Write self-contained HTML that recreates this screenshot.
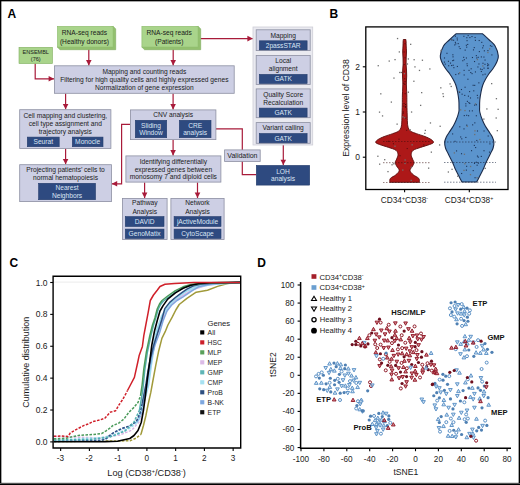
<!DOCTYPE html>
<html><head><meta charset="utf-8"><style>
html,body{margin:0;padding:0;background:#fff;}
body{width:520px;height:485px;overflow:hidden;}
svg{display:block;font-family:"Liberation Sans", sans-serif;}
</style></head><body>
<svg width="520" height="485" viewBox="0 0 520 485">
<rect x="0" y="0" width="520" height="485" fill="#fff"/>
<text x="7.60" y="17.60" font-size="12" fill="#000" text-anchor="start" font-weight="bold" >A</text>
<path d="M35.20,63.50 L35.20,78.80 L54.00,78.80" fill="none" stroke="#a81b3a" stroke-width="1.2"/>
<path d="M54.00,78.80 L48.60,81.60 L48.60,76.00 Z" fill="#a81b3a"/>
<path d="M88.80,49.50 L88.80,65.40" fill="none" stroke="#a81b3a" stroke-width="1.2"/>
<path d="M88.80,65.40 L86.00,60.00 L91.60,60.00 Z" fill="#a81b3a"/>
<path d="M173.20,49.50 L173.20,65.40" fill="none" stroke="#a81b3a" stroke-width="1.2"/>
<path d="M173.20,65.40 L170.40,60.00 L176.00,60.00 Z" fill="#a81b3a"/>
<path d="M200.50,38.60 L252.80,38.60" fill="none" stroke="#a81b3a" stroke-width="1.2"/>
<path d="M252.80,38.60 L247.40,41.40 L247.40,35.80 Z" fill="#a81b3a"/>
<path d="M65.60,93.60 L65.60,109.30" fill="none" stroke="#a81b3a" stroke-width="1.2"/>
<path d="M65.60,109.30 L62.80,103.90 L68.40,103.90 Z" fill="#a81b3a"/>
<path d="M173.10,93.60 L173.10,109.50" fill="none" stroke="#a81b3a" stroke-width="1.2"/>
<path d="M173.10,109.50 L170.30,104.10 L175.90,104.10 Z" fill="#a81b3a"/>
<path d="M65.60,148.70 L65.60,164.30" fill="none" stroke="#a81b3a" stroke-width="1.2"/>
<path d="M65.60,164.30 L62.80,158.90 L68.40,158.90 Z" fill="#a81b3a"/>
<path d="M130.00,124.30 L121.60,124.30 L121.60,183.80 L111.80,183.80" fill="none" stroke="#a81b3a" stroke-width="1.2"/>
<path d="M111.80,183.80 L117.20,181.00 L117.20,186.60 Z" fill="#a81b3a"/>
<path d="M173.10,140.00 L173.10,155.50" fill="none" stroke="#a81b3a" stroke-width="1.2"/>
<path d="M173.10,155.50 L170.30,150.10 L175.90,150.10 Z" fill="#a81b3a"/>
<path d="M216.00,128.80 L242.30,128.80 L242.30,174.60 L256.00,174.60" fill="none" stroke="#a81b3a" stroke-width="1.2"/>
<path d="M144.60,182.50 L144.60,198.00" fill="none" stroke="#a81b3a" stroke-width="1.2"/>
<path d="M144.60,198.00 L141.80,192.60 L147.40,192.60 Z" fill="#a81b3a"/>
<path d="M197.50,182.50 L197.50,198.00" fill="none" stroke="#a81b3a" stroke-width="1.2"/>
<path d="M197.50,198.00 L194.70,192.60 L200.30,192.60 Z" fill="#a81b3a"/>
<path d="M283.30,145.00 L283.30,165.10" fill="none" stroke="#a81b3a" stroke-width="1.2"/>
<path d="M283.30,165.10 L280.50,159.70 L286.10,159.70 Z" fill="#a81b3a"/>
<rect x="19.00" y="47.30" width="33.50" height="16.30" fill="#a9d48b" stroke="#82b062" stroke-width="0.6"/>
<text x="35.75" y="54.13" font-size="5.5" fill="#1a1a1a" text-anchor="middle" font-weight="normal" >ENSEMBL</text>
<text x="35.75" y="60.73" font-size="5.5" fill="#1a1a1a" text-anchor="middle" font-weight="normal" >(76)</text>
<path d="M113.10,26.30 L115.70,28.90 L115.70,49.70 L60.00,49.70 L57.40,47.10 Z" fill="#93c06f" stroke="#7eab5c" stroke-width="0.6" stroke-linejoin="round"/>
<rect x="57.40" y="26.30" width="55.70" height="20.80" fill="#a9d48b" stroke="#8cbb6c" stroke-width="0.6"/>
<text x="84.45" y="35.44" font-size="6.65" fill="#1a1a1a" text-anchor="middle" font-weight="normal" >RNA-seq reads</text>
<text x="84.45" y="43.54" font-size="6.65" fill="#1a1a1a" text-anchor="middle" font-weight="normal" >(Healthy donors)</text>
<path d="M198.10,26.30 L200.70,28.90 L200.70,49.70 L144.50,49.70 L141.90,47.10 Z" fill="#93c06f" stroke="#7eab5c" stroke-width="0.6" stroke-linejoin="round"/>
<rect x="141.90" y="26.30" width="56.20" height="20.80" fill="#a9d48b" stroke="#8cbb6c" stroke-width="0.6"/>
<text x="169.20" y="35.44" font-size="6.65" fill="#1a1a1a" text-anchor="middle" font-weight="normal" >RNA-seq reads</text>
<text x="169.20" y="43.54" font-size="6.65" fill="#1a1a1a" text-anchor="middle" font-weight="normal" >(Patients)</text>
<rect x="54.40" y="65.80" width="179.80" height="27.50" fill="#cdcfe4" stroke="#8c8fa2" stroke-width="0.8"/>
<text x="144.30" y="74.00" font-size="6.65" fill="#1a1a1a" text-anchor="middle" font-weight="normal" >Mapping and counting reads</text>
<text x="144.30" y="81.80" font-size="6.65" fill="#1a1a1a" text-anchor="middle" font-weight="normal" >Filtering for high quality cells and highly expressed genes</text>
<text x="144.30" y="89.60" font-size="6.65" fill="#1a1a1a" text-anchor="middle" font-weight="normal" >Normalization of gene expression</text>
<rect x="19.70" y="109.70" width="91.20" height="38.70" fill="#cdcfe4" stroke="#8c8fa2" stroke-width="0.8"/>
<text x="65.30" y="117.60" font-size="6.65" fill="#1a1a1a" text-anchor="middle" font-weight="normal" >Cell mapping and clustering,</text>
<text x="65.30" y="125.60" font-size="6.65" fill="#1a1a1a" text-anchor="middle" font-weight="normal" >cell type assignment and</text>
<text x="65.30" y="133.60" font-size="6.65" fill="#1a1a1a" text-anchor="middle" font-weight="normal" >trajectory analysis</text>
<rect x="27.30" y="137.10" width="31.90" height="9.60" fill="#2e4a80" stroke="#243c6c" stroke-width="0.6"/>
<text x="43.25" y="144.29" font-size="6.65" fill="#dce6f5" text-anchor="middle" font-weight="normal" >Seurat</text>
<rect x="72.30" y="137.10" width="30.70" height="9.60" fill="#2e4a80" stroke="#243c6c" stroke-width="0.6"/>
<text x="87.65" y="144.29" font-size="6.65" fill="#dce6f5" text-anchor="middle" font-weight="normal" >Monocle</text>
<rect x="130.40" y="109.90" width="85.50" height="29.70" fill="#cdcfe4" stroke="#8c8fa2" stroke-width="0.8"/>
<text x="173.10" y="117.40" font-size="6.65" fill="#1a1a1a" text-anchor="middle" font-weight="normal" >CNV analysis</text>
<rect x="135.30" y="120.30" width="31.40" height="17.40" fill="#2e4a80" stroke="#243c6c" stroke-width="0.6"/>
<text x="151.00" y="127.59" font-size="6.65" fill="#dce6f5" text-anchor="middle" font-weight="normal" >Sliding</text>
<text x="151.00" y="135.19" font-size="6.65" fill="#dce6f5" text-anchor="middle" font-weight="normal" >Window</text>
<rect x="179.30" y="120.30" width="31.70" height="17.40" fill="#2e4a80" stroke="#243c6c" stroke-width="0.6"/>
<text x="195.15" y="127.59" font-size="6.65" fill="#dce6f5" text-anchor="middle" font-weight="normal" >CRE</text>
<text x="195.15" y="135.19" font-size="6.65" fill="#dce6f5" text-anchor="middle" font-weight="normal" >analysis</text>
<rect x="19.70" y="164.70" width="91.70" height="36.90" fill="#cdcfe4" stroke="#8c8fa2" stroke-width="0.8"/>
<text x="65.50" y="172.40" font-size="6.65" fill="#1a1a1a" text-anchor="middle" font-weight="normal" >Projecting patients’ cells to</text>
<text x="65.50" y="180.00" font-size="6.65" fill="#1a1a1a" text-anchor="middle" font-weight="normal" >normal hematopoiesis</text>
<rect x="38.60" y="183.30" width="56.90" height="16.40" fill="#2e4a80" stroke="#243c6c" stroke-width="0.6"/>
<text x="67.05" y="190.09" font-size="6.65" fill="#dce6f5" text-anchor="middle" font-weight="normal" >Nearest</text>
<text x="67.05" y="197.69" font-size="6.65" fill="#dce6f5" text-anchor="middle" font-weight="normal" >Neighbors</text>
<rect x="125.90" y="155.90" width="95.00" height="26.20" fill="#cdcfe4" stroke="#8c8fa2" stroke-width="0.8"/>
<text x="173.40" y="163.60" font-size="6.65" fill="#1a1a1a" text-anchor="middle" font-weight="normal" >Identifying differentially</text>
<text x="173.40" y="171.60" font-size="6.65" fill="#1a1a1a" text-anchor="middle" font-weight="normal" >expressed genes between</text>
<text x="173.40" y="179.40" font-size="6.65" fill="#1a1a1a" text-anchor="middle" font-weight="normal" >monosomy 7 and diploid cells</text>
<rect x="122.40" y="198.40" width="44.70" height="41.20" fill="#cdcfe4" stroke="#8c8fa2" stroke-width="0.8"/>
<text x="144.80" y="205.40" font-size="6.65" fill="#1a1a1a" text-anchor="middle" font-weight="normal" >Pathway</text>
<text x="144.80" y="213.60" font-size="6.65" fill="#1a1a1a" text-anchor="middle" font-weight="normal" >Analysis</text>
<rect x="125.30" y="216.60" width="38.70" height="9.90" fill="#2e4a80" stroke="#243c6c" stroke-width="0.6"/>
<text x="144.65" y="223.94" font-size="6.65" fill="#dce6f5" text-anchor="middle" font-weight="normal" >DAVID</text>
<rect x="125.30" y="229.10" width="38.70" height="9.40" fill="#2e4a80" stroke="#243c6c" stroke-width="0.6"/>
<text x="144.65" y="236.19" font-size="6.65" fill="#dce6f5" text-anchor="middle" font-weight="normal" >GenoMatix</text>
<rect x="170.90" y="198.40" width="53.20" height="41.20" fill="#cdcfe4" stroke="#8c8fa2" stroke-width="0.8"/>
<text x="197.50" y="205.40" font-size="6.65" fill="#1a1a1a" text-anchor="middle" font-weight="normal" >Network</text>
<text x="197.50" y="213.60" font-size="6.65" fill="#1a1a1a" text-anchor="middle" font-weight="normal" >Analysis</text>
<rect x="174.10" y="216.60" width="46.90" height="9.90" fill="#2e4a80" stroke="#243c6c" stroke-width="0.6"/>
<text x="197.55" y="223.94" font-size="6.65" fill="#dce6f5" text-anchor="middle" font-weight="normal" >jActiveModule</text>
<rect x="174.10" y="229.10" width="46.90" height="9.40" fill="#2e4a80" stroke="#243c6c" stroke-width="0.6"/>
<text x="197.55" y="236.19" font-size="6.65" fill="#dce6f5" text-anchor="middle" font-weight="normal" >CytoScape</text>
<rect x="224.60" y="149.90" width="35.60" height="11.50" fill="#cdcfe4" stroke="#8c8fa2" stroke-width="0.8"/>
<text x="242.40" y="158.10" font-size="7.0" fill="#1a1a1a" text-anchor="middle" font-weight="normal" >Validation</text>
<rect x="253.00" y="27.00" width="59.70" height="118.00" fill="#eaeaf0" stroke="#cdcdd6" stroke-width="0.8"/>
<rect x="256.20" y="29.80" width="54.00" height="20.80" fill="#cdcfe4" stroke="#8c8fa2" stroke-width="0.8"/>
<text x="283.20" y="37.60" font-size="6.65" fill="#1a1a1a" text-anchor="middle" font-weight="normal" >Mapping</text>
<rect x="259.30" y="40.80" width="47.80" height="9.10" fill="#2e4a80" stroke="#243c6c" stroke-width="0.6"/>
<text x="283.20" y="47.74" font-size="6.65" fill="#dce6f5" text-anchor="middle" font-weight="normal" >2passSTAR</text>
<rect x="256.20" y="55.40" width="54.00" height="29.00" fill="#cdcfe4" stroke="#8c8fa2" stroke-width="0.8"/>
<text x="283.20" y="62.80" font-size="6.65" fill="#1a1a1a" text-anchor="middle" font-weight="normal" >Local</text>
<text x="283.20" y="70.90" font-size="6.65" fill="#1a1a1a" text-anchor="middle" font-weight="normal" >alignment</text>
<rect x="259.30" y="74.40" width="47.80" height="9.10" fill="#2e4a80" stroke="#243c6c" stroke-width="0.6"/>
<text x="283.20" y="81.34" font-size="6.65" fill="#dce6f5" text-anchor="middle" font-weight="normal" >GATK</text>
<rect x="256.20" y="88.90" width="54.00" height="28.80" fill="#cdcfe4" stroke="#8c8fa2" stroke-width="0.8"/>
<text x="283.20" y="96.80" font-size="6.65" fill="#1a1a1a" text-anchor="middle" font-weight="normal" >Quality Score</text>
<text x="283.20" y="104.80" font-size="6.65" fill="#1a1a1a" text-anchor="middle" font-weight="normal" >Recalculation</text>
<rect x="259.30" y="108.10" width="47.80" height="8.90" fill="#2e4a80" stroke="#243c6c" stroke-width="0.6"/>
<text x="283.20" y="114.94" font-size="6.65" fill="#dce6f5" text-anchor="middle" font-weight="normal" >GATK</text>
<rect x="256.20" y="122.60" width="54.00" height="20.70" fill="#cdcfe4" stroke="#8c8fa2" stroke-width="0.8"/>
<text x="283.20" y="130.30" font-size="6.65" fill="#1a1a1a" text-anchor="middle" font-weight="normal" >Variant calling</text>
<rect x="259.30" y="133.50" width="47.80" height="9.30" fill="#2e4a80" stroke="#243c6c" stroke-width="0.6"/>
<text x="283.20" y="140.54" font-size="6.65" fill="#dce6f5" text-anchor="middle" font-weight="normal" >GATK</text>
<rect x="256.30" y="165.40" width="53.40" height="19.70" fill="#2e4a80" stroke="#243c6c" stroke-width="0.6"/>
<text x="283.00" y="173.84" font-size="6.65" fill="#dce6f5" text-anchor="middle" font-weight="normal" >LOH</text>
<text x="283.00" y="181.44" font-size="6.65" fill="#dce6f5" text-anchor="middle" font-weight="normal" >analysis</text>
<text x="329.40" y="17.80" font-size="12" fill="#000" text-anchor="start" font-weight="bold" >B</text>
<path d="M403.30,39.50 C403.27,39.92 403.15,40.92 403.10,42.00 C403.05,43.08 403.07,44.33 403.00,46.00 C402.93,47.67 402.70,50.00 402.70,52.00 C402.70,54.00 402.93,56.00 403.00,58.00 C403.07,60.00 403.15,62.00 403.10,64.00 C403.05,66.00 402.80,68.00 402.70,70.00 C402.60,72.00 402.48,74.00 402.50,76.00 C402.52,78.00 402.77,80.00 402.80,82.00 C402.83,84.00 402.77,85.83 402.70,88.00 C402.63,90.17 402.47,92.17 402.40,95.00 C402.33,97.83 402.37,101.67 402.30,105.00 C402.23,108.33 402.08,112.17 402.00,115.00 C401.92,117.83 401.90,120.17 401.80,122.00 C401.70,123.83 401.63,124.83 401.40,126.00 C401.17,127.17 400.95,128.08 400.40,129.00 C399.85,129.92 399.40,130.72 398.10,131.50 C396.80,132.28 394.93,132.85 392.60,133.70 C390.27,134.55 386.52,135.63 384.10,136.60 C381.68,137.57 379.50,138.53 378.10,139.50 C376.70,140.47 375.45,141.57 375.70,142.40 C375.95,143.23 377.45,143.67 379.60,144.50 C381.75,145.33 385.87,146.43 388.60,147.40 C391.33,148.37 394.43,149.10 396.00,150.30 C397.57,151.50 397.88,153.15 398.00,154.60 C398.12,156.05 397.17,157.67 396.70,159.00 C396.23,160.33 395.20,161.40 395.20,162.60 C395.20,163.80 396.03,164.88 396.70,166.20 C397.37,167.52 399.33,169.07 399.20,170.50 C399.07,171.93 397.37,173.48 395.90,174.80 C394.43,176.12 391.42,177.15 390.40,178.40 C389.38,179.65 389.90,181.65 389.80,182.30 L419.40,182.30 C419.30,181.65 419.82,179.65 418.80,178.40 C417.78,177.15 414.77,176.12 413.30,174.80 C411.83,173.48 410.13,171.93 410.00,170.50 C409.87,169.07 411.83,167.52 412.50,166.20 C413.17,164.88 414.00,163.80 414.00,162.60 C414.00,161.40 412.97,160.33 412.50,159.00 C412.03,157.67 411.08,156.05 411.20,154.60 C411.32,153.15 411.63,151.50 413.20,150.30 C414.77,149.10 417.87,148.37 420.60,147.40 C423.33,146.43 427.45,145.33 429.60,144.50 C431.75,143.67 433.25,143.23 433.50,142.40 C433.75,141.57 432.50,140.47 431.10,139.50 C429.70,138.53 427.52,137.57 425.10,136.60 C422.68,135.63 418.93,134.55 416.60,133.70 C414.27,132.85 412.40,132.28 411.10,131.50 C409.80,130.72 409.35,129.92 408.80,129.00 C408.25,128.08 408.03,127.17 407.80,126.00 C407.57,124.83 407.50,123.83 407.40,122.00 C407.30,120.17 407.28,117.83 407.20,115.00 C407.12,112.17 406.97,108.33 406.90,105.00 C406.83,101.67 406.87,97.83 406.80,95.00 C406.73,92.17 406.57,90.17 406.50,88.00 C406.43,85.83 406.37,84.00 406.40,82.00 C406.43,80.00 406.68,78.00 406.70,76.00 C406.72,74.00 406.60,72.00 406.50,70.00 C406.40,68.00 406.15,66.00 406.10,64.00 C406.05,62.00 406.13,60.00 406.20,58.00 C406.27,56.00 406.50,54.00 406.50,52.00 C406.50,50.00 406.27,47.67 406.20,46.00 C406.13,44.33 406.15,43.08 406.10,42.00 C406.05,40.92 405.93,39.92 405.90,39.50 Z" fill="#ad1818" stroke="#5a0c0c" stroke-width="0.9" stroke-linejoin="round"/>
<path d="M455.90,33.80 C454.80,34.83 451.37,37.97 449.30,40.00 C447.23,42.03 445.00,43.38 443.50,46.00 C442.00,48.62 440.58,53.03 440.30,55.70 C440.02,58.37 440.90,59.82 441.80,62.00 C442.70,64.18 444.37,66.80 445.70,68.80 C447.03,70.80 448.57,72.25 449.80,74.00 C451.03,75.75 452.10,77.47 453.10,79.30 C454.10,81.13 455.07,82.95 455.80,85.00 C456.53,87.05 457.00,89.10 457.50,91.60 C458.00,94.10 458.55,97.37 458.80,100.00 C459.05,102.63 459.00,105.40 459.00,107.40 C459.00,109.40 459.25,109.93 458.80,112.00 C458.35,114.07 457.22,117.47 456.30,119.80 C455.38,122.13 454.53,123.83 453.30,126.00 C452.07,128.17 450.07,130.97 448.90,132.80 C447.73,134.63 447.00,135.45 446.30,137.00 C445.60,138.55 444.83,140.27 444.70,142.10 C444.57,143.93 444.95,146.13 445.50,148.00 C446.05,149.87 446.82,150.88 448.00,153.30 C449.18,155.72 451.47,160.05 452.60,162.50 C453.73,164.95 453.95,166.13 454.80,168.00 C455.65,169.87 456.87,172.03 457.70,173.70 C458.53,175.37 459.10,176.62 459.80,178.00 C460.50,179.38 461.55,181.33 461.90,182.00 L476.70,182.00 C477.05,181.33 478.10,179.38 478.80,178.00 C479.50,176.62 480.07,175.37 480.90,173.70 C481.73,172.03 482.95,169.87 483.80,168.00 C484.65,166.13 484.87,164.95 486.00,162.50 C487.13,160.05 489.42,155.72 490.60,153.30 C491.78,150.88 492.55,149.87 493.10,148.00 C493.65,146.13 494.03,143.93 493.90,142.10 C493.77,140.27 493.00,138.55 492.30,137.00 C491.60,135.45 490.87,134.63 489.70,132.80 C488.53,130.97 486.53,128.17 485.30,126.00 C484.07,123.83 483.22,122.13 482.30,119.80 C481.38,117.47 480.25,114.07 479.80,112.00 C479.35,109.93 479.60,109.40 479.60,107.40 C479.60,105.40 479.55,102.63 479.80,100.00 C480.05,97.37 480.60,94.10 481.10,91.60 C481.60,89.10 482.07,87.05 482.80,85.00 C483.53,82.95 484.50,81.13 485.50,79.30 C486.50,77.47 487.57,75.75 488.80,74.00 C490.03,72.25 491.57,70.80 492.90,68.80 C494.23,66.80 495.90,64.18 496.80,62.00 C497.70,59.82 498.58,58.37 498.30,55.70 C498.02,53.03 496.60,48.62 495.10,46.00 C493.60,43.38 491.37,42.03 489.30,40.00 C487.23,37.97 483.80,34.83 482.70,33.80 Z" fill="#5b94cd" stroke="#1b2b4a" stroke-width="1.1" stroke-linejoin="round"/>
<line x1="383" x2="430" y1="141.6" y2="141.6" stroke="#3a1010" stroke-width="0.7" stroke-dasharray="1.5,1.5" opacity="0.8"/>
<line x1="383" x2="430" y1="162.7" y2="162.7" stroke="#3a1010" stroke-width="0.7" stroke-dasharray="1.5,1.5" opacity="0.8"/>
<line x1="383" x2="430" y1="182.4" y2="182.4" stroke="#3a1010" stroke-width="0.7" stroke-dasharray="1.5,1.5" opacity="0.8"/>
<line x1="444" x2="496" y1="142" y2="142" stroke="#1a2540" stroke-width="0.7" stroke-dasharray="1.5,1.5" opacity="0.8"/>
<line x1="444" x2="496" y1="162.5" y2="162.5" stroke="#1a2540" stroke-width="0.7" stroke-dasharray="1.5,1.5" opacity="0.8"/>
<line x1="444" x2="496" y1="182.2" y2="182.2" stroke="#1a2540" stroke-width="0.7" stroke-dasharray="1.5,1.5" opacity="0.8"/>
<rect x="410.71" y="166.55" width="1.3" height="1.3" fill="#707070"/>
<rect x="418.84" y="69.78" width="1.3" height="1.3" fill="#707070"/>
<rect x="393.16" y="163.14" width="1.3" height="1.3" fill="#707070"/>
<rect x="377.23" y="155.61" width="1.3" height="1.3" fill="#707070"/>
<rect x="419.99" y="104.73" width="1.3" height="1.3" fill="#707070"/>
<rect x="393.31" y="77.44" width="1.3" height="1.3" fill="#707070"/>
<rect x="390.71" y="101.44" width="1.3" height="1.3" fill="#707070"/>
<rect x="404.20" y="117.05" width="1.3" height="1.3" fill="#707070"/>
<rect x="430.71" y="151.49" width="1.3" height="1.3" fill="#707070"/>
<rect x="410.55" y="179.76" width="1.3" height="1.3" fill="#707070"/>
<rect x="388.58" y="60.42" width="1.3" height="1.3" fill="#707070"/>
<rect x="410.03" y="43.68" width="1.3" height="1.3" fill="#707070"/>
<rect x="378.88" y="111.49" width="1.3" height="1.3" fill="#707070"/>
<rect x="402.13" y="169.42" width="1.3" height="1.3" fill="#707070"/>
<rect x="410.93" y="111.38" width="1.3" height="1.3" fill="#707070"/>
<rect x="403.78" y="72.99" width="1.3" height="1.3" fill="#707070"/>
<rect x="377.59" y="65.06" width="1.3" height="1.3" fill="#707070"/>
<rect x="414.32" y="66.24" width="1.3" height="1.3" fill="#707070"/>
<rect x="396.90" y="37.89" width="1.3" height="1.3" fill="#707070"/>
<rect x="421.77" y="59.59" width="1.3" height="1.3" fill="#707070"/>
<rect x="391.40" y="164.12" width="1.3" height="1.3" fill="#707070"/>
<rect x="404.48" y="159.34" width="1.3" height="1.3" fill="#707070"/>
<rect x="411.49" y="144.17" width="1.3" height="1.3" fill="#707070"/>
<rect x="381.89" y="115.27" width="1.3" height="1.3" fill="#707070"/>
<rect x="404.37" y="162.82" width="1.3" height="1.3" fill="#707070"/>
<rect x="396.46" y="123.49" width="1.3" height="1.3" fill="#707070"/>
<rect x="380.15" y="93.17" width="1.3" height="1.3" fill="#707070"/>
<rect x="394.39" y="58.98" width="1.3" height="1.3" fill="#707070"/>
<rect x="421.03" y="91.99" width="1.3" height="1.3" fill="#707070"/>
<rect x="429.80" y="122.31" width="1.3" height="1.3" fill="#707070"/>
<rect x="409.62" y="129.22" width="1.3" height="1.3" fill="#707070"/>
<rect x="413.48" y="59.06" width="1.3" height="1.3" fill="#707070"/>
<rect x="400.73" y="71.85" width="1.3" height="1.3" fill="#707070"/>
<rect x="398.68" y="51.28" width="1.3" height="1.3" fill="#707070"/>
<rect x="429.21" y="68.31" width="1.3" height="1.3" fill="#707070"/>
<rect x="413.23" y="80.61" width="1.3" height="1.3" fill="#707070"/>
<rect x="424.15" y="132.71" width="1.3" height="1.3" fill="#707070"/>
<rect x="384.06" y="159.04" width="1.3" height="1.3" fill="#707070"/>
<rect x="427.98" y="167.51" width="1.3" height="1.3" fill="#707070"/>
<rect x="407.71" y="58.30" width="1.3" height="1.3" fill="#707070"/>
<rect x="387.34" y="170.97" width="1.3" height="1.3" fill="#707070"/>
<rect x="406.78" y="63.35" width="1.3" height="1.3" fill="#707070"/>
<rect x="424.69" y="129.74" width="1.3" height="1.3" fill="#707070"/>
<rect x="407.71" y="91.54" width="1.3" height="1.3" fill="#707070"/>
<rect x="399.14" y="71.84" width="1.3" height="1.3" fill="#707070"/>
<rect x="379.01" y="163.53" width="1.3" height="1.3" fill="#707070"/>
<rect x="402.21" y="116.21" width="1.3" height="1.3" fill="#707070"/>
<rect x="394.35" y="145.54" width="1.3" height="1.3" fill="#707070"/>
<rect x="440.16" y="87.18" width="1.3" height="1.3" fill="#707070"/>
<rect x="440.47" y="49.78" width="1.3" height="1.3" fill="#707070"/>
<rect x="496.68" y="130.01" width="1.3" height="1.3" fill="#707070"/>
<rect x="464.34" y="109.91" width="1.3" height="1.3" fill="#707070"/>
<rect x="491.02" y="82.98" width="1.3" height="1.3" fill="#707070"/>
<rect x="474.07" y="133.90" width="1.3" height="1.3" fill="#707070"/>
<rect x="459.97" y="109.21" width="1.3" height="1.3" fill="#707070"/>
<rect x="484.56" y="167.73" width="1.3" height="1.3" fill="#707070"/>
<rect x="447.71" y="171.36" width="1.3" height="1.3" fill="#707070"/>
<rect x="438.96" y="144.30" width="1.3" height="1.3" fill="#707070"/>
<rect x="487.28" y="51.86" width="1.3" height="1.3" fill="#707070"/>
<rect x="463.78" y="153.64" width="1.3" height="1.3" fill="#707070"/>
<rect x="439.51" y="125.62" width="1.3" height="1.3" fill="#707070"/>
<rect x="486.23" y="108.30" width="1.3" height="1.3" fill="#707070"/>
<rect x="482.20" y="65.31" width="1.3" height="1.3" fill="#707070"/>
<rect x="450.56" y="85.82" width="1.3" height="1.3" fill="#707070"/>
<rect x="449.41" y="83.26" width="1.3" height="1.3" fill="#707070"/>
<rect x="495.54" y="117.35" width="1.3" height="1.3" fill="#707070"/>
<rect x="459.05" y="72.08" width="1.3" height="1.3" fill="#707070"/>
<rect x="495.77" y="98.02" width="1.3" height="1.3" fill="#707070"/>
<rect x="497.47" y="108.68" width="1.3" height="1.3" fill="#707070"/>
<rect x="469.92" y="165.83" width="1.3" height="1.3" fill="#707070"/>
<rect x="483.22" y="118.45" width="1.3" height="1.3" fill="#707070"/>
<rect x="464.25" y="163.08" width="1.3" height="1.3" fill="#707070"/>
<rect x="463.35" y="169.76" width="1.3" height="1.3" fill="#707070"/>
<rect x="442.77" y="95.85" width="1.3" height="1.3" fill="#707070"/>
<rect x="469.82" y="173.99" width="1.3" height="1.3" fill="#707070"/>
<rect x="453.71" y="152.26" width="1.3" height="1.3" fill="#707070"/>
<rect x="479.24" y="138.91" width="1.3" height="1.3" fill="#707070"/>
<rect x="476.43" y="177.08" width="1.3" height="1.3" fill="#707070"/>
<rect x="458.61" y="91.09" width="1.3" height="1.3" fill="#707070"/>
<rect x="450.82" y="38.96" width="1.3" height="1.3" fill="#707070"/>
<rect x="451.42" y="168.67" width="1.3" height="1.3" fill="#707070"/>
<rect x="489.06" y="48.21" width="1.3" height="1.3" fill="#707070"/>
<rect x="474.88" y="103.23" width="1.3" height="1.3" fill="#707070"/>
<rect x="474.33" y="130.24" width="1.3" height="1.3" fill="#707070"/>
<rect x="457.05" y="175.55" width="1.3" height="1.3" fill="#707070"/>
<rect x="466.60" y="125.57" width="1.3" height="1.3" fill="#707070"/>
<rect x="476.76" y="58.93" width="1.3" height="1.3" fill="#707070"/>
<rect x="442.36" y="93.08" width="1.3" height="1.3" fill="#707070"/>
<rect x="475.80" y="161.68" width="1.1" height="1.1" fill="#1b3358"/>
<rect x="480.80" y="70.98" width="1.1" height="1.1" fill="#1b3358"/>
<rect x="483.49" y="130.44" width="1.1" height="1.1" fill="#1b3358"/>
<rect x="454.87" y="35.66" width="1.1" height="1.1" fill="#1b3358"/>
<rect x="454.20" y="44.39" width="1.1" height="1.1" fill="#1b3358"/>
<rect x="471.43" y="36.01" width="1.1" height="1.1" fill="#1b3358"/>
<rect x="443.91" y="61.56" width="1.1" height="1.1" fill="#1b3358"/>
<rect x="470.22" y="71.98" width="1.1" height="1.1" fill="#1b3358"/>
<rect x="473.77" y="144.86" width="1.1" height="1.1" fill="#1b3358"/>
<rect x="443.93" y="57.43" width="1.1" height="1.1" fill="#1b3358"/>
<rect x="474.51" y="177.18" width="1.1" height="1.1" fill="#1b3358"/>
<rect x="459.60" y="48.00" width="1.1" height="1.1" fill="#1b3358"/>
<rect x="484.49" y="59.51" width="1.1" height="1.1" fill="#1b3358"/>
<rect x="481.55" y="68.96" width="1.1" height="1.1" fill="#1b3358"/>
<rect x="487.03" y="65.12" width="1.1" height="1.1" fill="#1b3358"/>
<rect x="476.23" y="57.40" width="1.1" height="1.1" fill="#1b3358"/>
<rect x="472.59" y="84.75" width="1.1" height="1.1" fill="#1b3358"/>
<rect x="477.82" y="162.61" width="1.1" height="1.1" fill="#1b3358"/>
<rect x="487.06" y="63.33" width="1.1" height="1.1" fill="#1b3358"/>
<rect x="459.10" y="91.73" width="1.1" height="1.1" fill="#1b3358"/>
<rect x="469.94" y="97.42" width="1.1" height="1.1" fill="#1b3358"/>
<rect x="463.73" y="115.04" width="1.1" height="1.1" fill="#1b3358"/>
<rect x="447.87" y="60.74" width="1.1" height="1.1" fill="#1b3358"/>
<rect x="474.87" y="39.80" width="1.1" height="1.1" fill="#1b3358"/>
<rect x="466.17" y="114.77" width="1.1" height="1.1" fill="#1b3358"/>
<rect x="457.64" y="43.05" width="1.1" height="1.1" fill="#1b3358"/>
<rect x="446.40" y="52.75" width="1.1" height="1.1" fill="#1b3358"/>
<rect x="460.15" y="136.41" width="1.1" height="1.1" fill="#1b3358"/>
<rect x="451.06" y="64.98" width="1.1" height="1.1" fill="#1b3358"/>
<rect x="453.07" y="39.68" width="1.1" height="1.1" fill="#1b3358"/>
<rect x="465.31" y="103.26" width="1.1" height="1.1" fill="#1b3358"/>
<rect x="454.45" y="140.78" width="1.1" height="1.1" fill="#1b3358"/>
<rect x="463.55" y="69.81" width="1.1" height="1.1" fill="#1b3358"/>
<rect x="474.16" y="84.81" width="1.1" height="1.1" fill="#1b3358"/>
<rect x="473.93" y="162.81" width="1.1" height="1.1" fill="#1b3358"/>
<rect x="469.35" y="37.02" width="1.1" height="1.1" fill="#1b3358"/>
<rect x="464.21" y="94.87" width="1.1" height="1.1" fill="#1b3358"/>
<rect x="488.04" y="64.38" width="1.1" height="1.1" fill="#1b3358"/>
<rect x="481.21" y="41.82" width="1.1" height="1.1" fill="#1b3358"/>
<rect x="488.96" y="151.59" width="1.1" height="1.1" fill="#1b3358"/>
<rect x="476.57" y="164.65" width="1.1" height="1.1" fill="#1b3358"/>
<rect x="452.14" y="60.10" width="1.1" height="1.1" fill="#1b3358"/>
<rect x="476.90" y="155.52" width="1.1" height="1.1" fill="#1b3358"/>
<rect x="464.63" y="49.58" width="1.1" height="1.1" fill="#1b3358"/>
<rect x="470.62" y="68.22" width="1.1" height="1.1" fill="#1b3358"/>
<rect x="480.81" y="56.37" width="1.1" height="1.1" fill="#1b3358"/>
<rect x="487.57" y="67.68" width="1.1" height="1.1" fill="#1b3358"/>
<rect x="478.64" y="39.96" width="1.1" height="1.1" fill="#1b3358"/>
<rect x="473.21" y="90.28" width="1.1" height="1.1" fill="#1b3358"/>
<rect x="461.07" y="172.95" width="1.1" height="1.1" fill="#1b3358"/>
<rect x="455.20" y="73.96" width="1.1" height="1.1" fill="#1b3358"/>
<rect x="465.85" y="57.45" width="1.1" height="1.1" fill="#1b3358"/>
<rect x="476.80" y="94.84" width="1.1" height="1.1" fill="#1b3358"/>
<rect x="448.13" y="65.21" width="1.1" height="1.1" fill="#1b3358"/>
<rect x="463.33" y="35.75" width="1.1" height="1.1" fill="#1b3358"/>
<rect x="466.50" y="63.24" width="1.1" height="1.1" fill="#1b3358"/>
<rect x="482.35" y="74.26" width="1.1" height="1.1" fill="#1b3358"/>
<rect x="466.85" y="100.83" width="1.1" height="1.1" fill="#1b3358"/>
<rect x="451.48" y="39.45" width="1.1" height="1.1" fill="#1b3358"/>
<rect x="456.82" y="39.38" width="1.1" height="1.1" fill="#1b3358"/>
<rect x="459.24" y="126.26" width="1.1" height="1.1" fill="#1b3358"/>
<rect x="469.23" y="102.90" width="1.1" height="1.1" fill="#1b3358"/>
<rect x="475.81" y="55.10" width="1.1" height="1.1" fill="#1b3358"/>
<rect x="483.81" y="50.27" width="1.1" height="1.1" fill="#1b3358"/>
<rect x="461.55" y="93.64" width="1.1" height="1.1" fill="#1b3358"/>
<rect x="484.55" y="73.63" width="1.1" height="1.1" fill="#1b3358"/>
<rect x="458.14" y="73.25" width="1.1" height="1.1" fill="#1b3358"/>
<rect x="491.35" y="54.35" width="1.1" height="1.1" fill="#1b3358"/>
<rect x="473.72" y="47.06" width="1.1" height="1.1" fill="#1b3358"/>
<rect x="467.16" y="43.91" width="1.1" height="1.1" fill="#1b3358"/>
<rect x="480.75" y="155.87" width="1.1" height="1.1" fill="#1b3358"/>
<rect x="483.45" y="150.18" width="1.1" height="1.1" fill="#1b3358"/>
<rect x="460.98" y="153.17" width="1.1" height="1.1" fill="#1b3358"/>
<rect x="452.62" y="64.71" width="1.1" height="1.1" fill="#1b3358"/>
<rect x="461.22" y="138.29" width="1.1" height="1.1" fill="#1b3358"/>
<rect x="469.05" y="91.05" width="1.1" height="1.1" fill="#1b3358"/>
<rect x="471.51" y="73.07" width="1.1" height="1.1" fill="#1b3358"/>
<rect x="474.10" y="104.62" width="1.1" height="1.1" fill="#1b3358"/>
<rect x="489.35" y="143.32" width="1.1" height="1.1" fill="#1b3358"/>
<rect x="478.80" y="51.05" width="1.1" height="1.1" fill="#1b3358"/>
<rect x="471.79" y="110.30" width="1.1" height="1.1" fill="#1b3358"/>
<rect x="483.38" y="56.52" width="1.1" height="1.1" fill="#1b3358"/>
<rect x="444.73" y="63.56" width="1.1" height="1.1" fill="#1b3358"/>
<rect x="466.19" y="124.60" width="1.1" height="1.1" fill="#1b3358"/>
<rect x="476.94" y="130.44" width="1.1" height="1.1" fill="#1b3358"/>
<rect x="471.90" y="56.96" width="1.1" height="1.1" fill="#1b3358"/>
<rect x="467.36" y="78.69" width="1.1" height="1.1" fill="#1b3358"/>
<rect x="452.06" y="133.38" width="1.1" height="1.1" fill="#1b3358"/>
<rect x="455.20" y="43.34" width="1.1" height="1.1" fill="#1b3358"/>
<rect x="467.87" y="95.62" width="1.1" height="1.1" fill="#1b3358"/>
<rect x="471.00" y="150.13" width="1.1" height="1.1" fill="#1b3358"/>
<rect x="472.11" y="124.29" width="1.1" height="1.1" fill="#1b3358"/>
<rect x="475.09" y="147.01" width="1.1" height="1.1" fill="#1b3358"/>
<rect x="463.12" y="56.78" width="1.1" height="1.1" fill="#1b3358"/>
<rect x="468.07" y="115.16" width="1.1" height="1.1" fill="#1b3358"/>
<rect x="463.45" y="128.34" width="1.1" height="1.1" fill="#1b3358"/>
<rect x="475.79" y="115.21" width="1.1" height="1.1" fill="#1b3358"/>
<rect x="474.28" y="122.31" width="1.1" height="1.1" fill="#1b3358"/>
<rect x="487.35" y="50.04" width="1.1" height="1.1" fill="#1b3358"/>
<rect x="477.68" y="56.76" width="1.1" height="1.1" fill="#1b3358"/>
<rect x="465.31" y="136.90" width="1.1" height="1.1" fill="#1b3358"/>
<rect x="458.59" y="46.16" width="1.1" height="1.1" fill="#1b3358"/>
<rect x="463.62" y="74.41" width="1.1" height="1.1" fill="#1b3358"/>
<rect x="472.92" y="49.32" width="1.1" height="1.1" fill="#1b3358"/>
<rect x="465.82" y="169.58" width="1.1" height="1.1" fill="#1b3358"/>
<rect x="468.49" y="69.83" width="1.1" height="1.1" fill="#1b3358"/>
<rect x="478.30" y="82.29" width="1.1" height="1.1" fill="#1b3358"/>
<rect x="452.32" y="54.23" width="1.1" height="1.1" fill="#1b3358"/>
<rect x="483.48" y="67.57" width="1.1" height="1.1" fill="#1b3358"/>
<rect x="466.75" y="65.17" width="1.1" height="1.1" fill="#1b3358"/>
<rect x="452.49" y="56.29" width="1.1" height="1.1" fill="#1b3358"/>
<rect x="482.43" y="62.71" width="1.1" height="1.1" fill="#1b3358"/>
<rect x="484.41" y="63.76" width="1.1" height="1.1" fill="#1b3358"/>
<rect x="474.54" y="36.95" width="1.1" height="1.1" fill="#1b3358"/>
<rect x="462.26" y="60.18" width="1.1" height="1.1" fill="#1b3358"/>
<rect x="468.33" y="102.07" width="1.1" height="1.1" fill="#1b3358"/>
<rect x="453.07" y="59.69" width="1.1" height="1.1" fill="#1b3358"/>
<rect x="465.32" y="105.39" width="1.1" height="1.1" fill="#1b3358"/>
<rect x="466.28" y="37.15" width="1.1" height="1.1" fill="#1b3358"/>
<rect x="456.01" y="150.37" width="1.1" height="1.1" fill="#1b3358"/>
<rect x="482.12" y="47.31" width="1.1" height="1.1" fill="#1b3358"/>
<rect x="474.89" y="71.38" width="1.1" height="1.1" fill="#1b3358"/>
<rect x="477.70" y="156.59" width="1.1" height="1.1" fill="#1b3358"/>
<rect x="465.81" y="44.73" width="1.1" height="1.1" fill="#1b3358"/>
<rect x="466.50" y="40.12" width="1.1" height="1.1" fill="#1b3358"/>
<rect x="460.91" y="88.97" width="1.1" height="1.1" fill="#1b3358"/>
<rect x="491.29" y="45.78" width="1.1" height="1.1" fill="#1b3358"/>
<rect x="454.84" y="41.80" width="1.1" height="1.1" fill="#1b3358"/>
<rect x="467.59" y="35.05" width="1.1" height="1.1" fill="#1b3358"/>
<rect x="482.84" y="45.24" width="1.1" height="1.1" fill="#1b3358"/>
<rect x="463.77" y="59.14" width="1.1" height="1.1" fill="#1b3358"/>
<rect x="453.32" y="67.12" width="1.1" height="1.1" fill="#1b3358"/>
<rect x="472.68" y="170.05" width="1.1" height="1.1" fill="#1b3358"/>
<rect x="473.99" y="60.98" width="1.1" height="1.1" fill="#1b3358"/>
<rect x="477.21" y="97.33" width="1.1" height="1.1" fill="#1b3358"/>
<rect x="464.53" y="86.69" width="1.1" height="1.1" fill="#1b3358"/>
<rect x="487.36" y="67.69" width="1.1" height="1.1" fill="#1b3358"/>
<rect x="476.25" y="139.93" width="1.1" height="1.1" fill="#1b3358"/>
<rect x="487.65" y="135.46" width="1.1" height="1.1" fill="#1b3358"/>
<rect x="468.98" y="110.37" width="1.1" height="1.1" fill="#1b3358"/>
<rect x="478.40" y="63.42" width="1.1" height="1.1" fill="#1b3358"/>
<rect x="479.94" y="68.51" width="1.1" height="1.1" fill="#1b3358"/>
<rect x="456.63" y="37.55" width="1.1" height="1.1" fill="#1b3358"/>
<rect x="466.16" y="46.61" width="1.1" height="1.1" fill="#1b3358"/>
<rect x="475.82" y="104.24" width="1.1" height="1.1" fill="#1b3358"/>
<rect x="466.10" y="165.77" width="1.1" height="1.1" fill="#1b3358"/>
<rect x="456.82" y="65.93" width="1.1" height="1.1" fill="#1b3358"/>
<rect x="477.37" y="66.43" width="1.1" height="1.1" fill="#1b3358"/>
<rect x="489.84" y="45.15" width="1.1" height="1.1" fill="#1b3358"/>
<rect x="449.95" y="62.55" width="1.1" height="1.1" fill="#1b3358"/>
<rect x="399.56" y="155.24" width="1" height="1" fill="#4a0c0c"/>
<rect x="402.66" y="112.78" width="1" height="1" fill="#4a0c0c"/>
<rect x="405.27" y="117.61" width="1" height="1" fill="#4a0c0c"/>
<rect x="403.69" y="51.48" width="1" height="1" fill="#4a0c0c"/>
<rect x="406.69" y="148.09" width="1" height="1" fill="#4a0c0c"/>
<rect x="404.32" y="83.92" width="1" height="1" fill="#4a0c0c"/>
<rect x="405.04" y="104.07" width="1" height="1" fill="#4a0c0c"/>
<rect x="404.52" y="81.10" width="1" height="1" fill="#4a0c0c"/>
<rect x="406.20" y="129.77" width="1" height="1" fill="#4a0c0c"/>
<rect x="404.62" y="93.21" width="1" height="1" fill="#4a0c0c"/>
<rect x="398.51" y="138.68" width="1" height="1" fill="#4a0c0c"/>
<rect x="404.60" y="43.26" width="1" height="1" fill="#4a0c0c"/>
<rect x="388.15" y="140.83" width="1" height="1" fill="#4a0c0c"/>
<rect x="392.88" y="143.27" width="1" height="1" fill="#4a0c0c"/>
<rect x="405.07" y="106.14" width="1" height="1" fill="#4a0c0c"/>
<rect x="403.55" y="103.13" width="1" height="1" fill="#4a0c0c"/>
<rect x="403.40" y="82.88" width="1" height="1" fill="#4a0c0c"/>
<rect x="403.67" y="70.67" width="1" height="1" fill="#4a0c0c"/>
<rect x="403.63" y="64.06" width="1" height="1" fill="#4a0c0c"/>
<rect x="403.34" y="105.64" width="1" height="1" fill="#4a0c0c"/>
<rect x="423.32" y="144.41" width="1" height="1" fill="#4a0c0c"/>
<rect x="404.24" y="78.26" width="1" height="1" fill="#4a0c0c"/>
<rect x="402.82" y="111.46" width="1" height="1" fill="#4a0c0c"/>
<rect x="404.57" y="57.23" width="1" height="1" fill="#4a0c0c"/>
<rect x="404.93" y="106.83" width="1" height="1" fill="#4a0c0c"/>
<rect x="365.8" y="26.9" width="142.2" height="162.6" fill="none" stroke="#000" stroke-width="1.3"/>
<line x1="362.8" x2="365.8" y1="157.2" y2="157.2" stroke="#000" stroke-width="1.1"/>
<text x="357.60" y="160.20" font-size="8.5" fill="#1a1a1a" text-anchor="middle" font-weight="normal" >0</text>
<line x1="362.8" x2="365.8" y1="111.99999999999999" y2="111.99999999999999" stroke="#000" stroke-width="1.1"/>
<text x="357.60" y="115.00" font-size="8.5" fill="#1a1a1a" text-anchor="middle" font-weight="normal" >1</text>
<line x1="362.8" x2="365.8" y1="66.79999999999998" y2="66.79999999999998" stroke="#000" stroke-width="1.1"/>
<text x="357.60" y="69.80" font-size="8.5" fill="#1a1a1a" text-anchor="middle" font-weight="normal" >2</text>
<line x1="404.6" x2="404.6" y1="189.5" y2="192.3" stroke="#000" stroke-width="1.1"/>
<line x1="469.3" x2="469.3" y1="189.5" y2="192.3" stroke="#000" stroke-width="1.1"/>
<text transform="translate(349.3,108) rotate(-90)" font-size="8.7" fill="#1a1a1a" text-anchor="middle">Expression level of CD38</text>
<text x="404.40" y="203.10" font-size="8.3" fill="#1a1a1a" text-anchor="middle" font-weight="normal" >CD34<tspan dy="-3" font-size="5.3">+</tspan><tspan dy="3">CD38</tspan><tspan dy="-3" font-size="5.3">-</tspan></text>
<text x="469.00" y="203.10" font-size="8.3" fill="#1a1a1a" text-anchor="middle" font-weight="normal" >CD34<tspan dy="-3" font-size="5.3">+</tspan><tspan dy="3">CD38</tspan><tspan dy="-3" font-size="5.3">+</tspan></text>
<text x="9.60" y="266.60" font-size="12" fill="#000" text-anchor="start" font-weight="bold" >C</text>
<line x1="54" x2="240" y1="282.1" y2="282.1" stroke="#e6e6e6" stroke-width="0.8"/>
<path d="M53.80,441.60 L130.00,440.80 L135.90,438.20 L140.90,434.50" fill="none" stroke="#a19a3a" stroke-width="1.5" stroke-dasharray="2.6,1.4" stroke-linejoin="round"/>
<path d="M140.90,434.50 L143.40,425.80 L145.80,416.00 L148.30,403.60 L150.80,392.40 L152.50,383.00 L155.80,365.20 L158.50,351.80 L161.90,338.40 L165.20,331.70 L167.90,325.00 L172.20,317.20 L175.80,310.00 L179.20,304.50 L186.90,298.30 L196.20,292.20 L207.50,290.30 L217.60,286.40 L227.70,283.50 L235.00,282.60 L240.00,282.40" fill="none" stroke="#a19a3a" stroke-width="1.5" stroke-linejoin="round"/>
<path d="M53.80,436.30 L60.00,436.50 L100.00,438.00 L120.00,435.00 L132.00,430.00 L139.00,422.00 L143.00,408.00" fill="none" stroke="#d9b3e3" stroke-width="1.5" stroke-dasharray="2.6,1.4" stroke-linejoin="round"/>
<path d="M143.00,408.00 L147.00,388.00 L151.00,362.00 L155.00,340.00 L159.50,327.00 L164.00,316.00 L169.00,307.00 L175.00,300.50 L183.00,295.50 L193.00,289.50 L206.00,285.50 L222.00,283.20 L240.00,282.40" fill="none" stroke="#d9b3e3" stroke-width="1.5" stroke-linejoin="round"/>
<path d="M53.80,440.50 L80.00,439.00 L101.50,438.00 L115.00,435.00 L128.00,429.00 L136.00,423.00" fill="none" stroke="#9edcef" stroke-width="2.3" stroke-dasharray="2.6,1.4" stroke-linejoin="round"/>
<path d="M136.00,423.00 L138.40,419.70 L143.00,405.00 L148.30,385.00 L151.00,365.00 L154.00,345.00 L157.00,330.00 L162.00,316.00 L168.00,306.00 L176.00,298.00 L186.00,291.00 L198.00,286.50 L212.00,284.00 L240.00,282.40" fill="none" stroke="#9edcef" stroke-width="2.3" stroke-linejoin="round"/>
<path d="M53.80,441.20 L100.00,440.20 L106.00,439.00 L113.40,433.00 L122.00,429.00 L130.80,425.20 L137.00,421.50 L140.70,415.50 L143.10,404.50" fill="none" stroke="#7ea7df" stroke-width="1.5" stroke-dasharray="2.6,1.4" stroke-linejoin="round"/>
<path d="M143.10,404.50 L146.80,386.00 L149.00,372.00 L152.00,356.00 L155.00,345.00 L159.50,333.00 L163.00,321.00 L167.00,311.00 L171.50,305.20 L177.00,300.50 L183.10,296.80 L192.30,290.60 L198.50,286.80 L210.00,284.30 L225.00,283.00 L240.00,282.40" fill="none" stroke="#7ea7df" stroke-width="1.5" stroke-linejoin="round"/>
<path d="M53.80,441.50 L100.00,440.50 L105.00,439.50 L111.60,433.80 L117.40,430.50 L123.10,428.00 L128.90,426.30 L133.00,423.90 L137.00,420.00 L140.00,413.00 L142.10,403.60" fill="none" stroke="#2d4f80" stroke-width="1.5" stroke-dasharray="2.6,1.4" stroke-linejoin="round"/>
<path d="M142.10,403.60 L145.80,385.00 L147.80,372.00 L150.50,358.00 L153.80,345.00 L157.00,335.00 L159.50,327.00 L161.70,320.00 L164.80,308.60 L169.70,302.40 L175.40,297.50 L181.50,292.90 L186.90,289.10 L193.10,286.00 L200.00,284.20 L215.00,283.00 L240.00,282.40" fill="none" stroke="#2d4f80" stroke-width="1.5" stroke-linejoin="round"/>
<path d="M53.80,440.00 L90.00,439.50 L110.00,437.00 L125.00,431.00 L134.00,422.00 L139.50,410.00" fill="none" stroke="#52aeb0" stroke-width="1.5" stroke-dasharray="2.6,1.4" stroke-linejoin="round"/>
<path d="M139.50,410.00 L142.80,390.00 L144.80,370.00 L147.40,352.00 L150.80,336.00 L153.50,325.00 L156.00,317.00 L158.30,309.00 L160.60,304.50 L163.00,301.50 L168.70,297.00 L176.40,291.60 L184.10,287.60 L191.80,285.20 L205.00,283.20 L240.00,282.40" fill="none" stroke="#52aeb0" stroke-width="1.5" stroke-linejoin="round"/>
<path d="M53.80,438.80 L65.70,438.30 L78.40,435.40 L88.80,434.80 L101.50,433.70 L106.10,430.80 L111.30,427.30 L112.40,425.80 L119.00,423.00 L124.00,418.90 L128.90,412.30 L133.90,407.40 L138.00,402.40 L140.50,395.80" fill="none" stroke="#4a9a5a" stroke-width="1.5" stroke-dasharray="2.6,1.4" stroke-linejoin="round"/>
<path d="M140.50,395.80 L142.10,385.00 L143.80,369.20 L146.40,351.80 L149.80,335.70 L152.50,325.00 L154.90,318.00 L157.20,309.00 L159.50,304.00 L162.00,300.50 L167.70,296.00 L175.40,290.60 L183.10,286.80 L190.80,284.50 L198.00,283.50 L215.00,282.70 L240.00,282.40" fill="none" stroke="#4a9a5a" stroke-width="1.5" stroke-linejoin="round"/>
<path d="M53.80,441.80 L105.00,441.60 L117.40,441.20 L129.80,438.50 L134.00,435.50 L138.00,430.50 L141.30,422.20 L143.50,410.00 L145.50,395.00 L147.50,378.00 L149.80,361.20 L151.80,345.10 L154.50,331.00 L157.40,320.00 L160.00,311.00 L163.10,305.60 L167.70,299.10 L175.40,292.90 L183.10,288.30 L190.80,285.20 L198.50,283.70 L210.00,282.80 L240.00,282.40" fill="none" stroke="#000000" stroke-width="1.6" stroke-linejoin="round"/>
<path d="M53.80,436.30 L61.10,436.00 L68.00,436.50 L70.30,433.00 L76.10,429.60 L83.60,425.60 L88.80,423.80 L92.20,421.80 L100.30,419.80 L105.00,418.10 L110.00,412.30 L115.70,410.70 L119.00,404.90 L122.30,400.00 L125.20,395.00 L127.50,390.50" fill="none" stroke="#d0202a" stroke-width="1.5" stroke-dasharray="2.6,1.4" stroke-linejoin="round"/>
<path d="M127.50,390.50 L130.40,385.00 L134.40,377.30 L137.70,362.50 L139.10,355.80 L142.40,346.40 L143.80,335.70 L145.80,325.00 L148.10,312.90 L150.30,300.50 L153.50,295.00 L157.40,290.00 L160.00,286.50 L165.00,284.30 L174.60,283.40 L193.80,282.40 L240.00,282.40" fill="none" stroke="#d0202a" stroke-width="1.5" stroke-linejoin="round"/>
<path d="M53.1,276.2 L240.7,276.2 L240.7,448 L53.1,448 Z" fill="none" stroke="#000" stroke-width="1.4"/>
<line x1="50.2" x2="53.1" y1="441.90" y2="441.90" stroke="#000" stroke-width="1.1"/>
<text x="47.60" y="444.90" font-size="8.5" fill="#1a1a1a" text-anchor="end" font-weight="normal" >0.0</text>
<line x1="50.2" x2="53.1" y1="410.02" y2="410.02" stroke="#000" stroke-width="1.1"/>
<text x="47.60" y="413.02" font-size="8.5" fill="#1a1a1a" text-anchor="end" font-weight="normal" >0.2</text>
<line x1="50.2" x2="53.1" y1="378.14" y2="378.14" stroke="#000" stroke-width="1.1"/>
<text x="47.60" y="381.14" font-size="8.5" fill="#1a1a1a" text-anchor="end" font-weight="normal" >0.4</text>
<line x1="50.2" x2="53.1" y1="346.26" y2="346.26" stroke="#000" stroke-width="1.1"/>
<text x="47.60" y="349.26" font-size="8.5" fill="#1a1a1a" text-anchor="end" font-weight="normal" >0.6</text>
<line x1="50.2" x2="53.1" y1="314.38" y2="314.38" stroke="#000" stroke-width="1.1"/>
<text x="47.60" y="317.38" font-size="8.5" fill="#1a1a1a" text-anchor="end" font-weight="normal" >0.8</text>
<line x1="50.2" x2="53.1" y1="282.50" y2="282.50" stroke="#000" stroke-width="1.1"/>
<text x="47.60" y="285.50" font-size="8.5" fill="#1a1a1a" text-anchor="end" font-weight="normal" >1.0</text>
<line x1="60.65" x2="60.65" y1="448" y2="451" stroke="#000" stroke-width="1.1"/>
<text x="60.45" y="461.00" font-size="8.2" fill="#1a1a1a" text-anchor="middle" font-weight="normal" >-3</text>
<line x1="89.40" x2="89.40" y1="448" y2="451" stroke="#000" stroke-width="1.1"/>
<text x="89.20" y="461.00" font-size="8.2" fill="#1a1a1a" text-anchor="middle" font-weight="normal" >-2</text>
<line x1="118.15" x2="118.15" y1="448" y2="451" stroke="#000" stroke-width="1.1"/>
<text x="117.95" y="461.00" font-size="8.2" fill="#1a1a1a" text-anchor="middle" font-weight="normal" >-1</text>
<line x1="146.90" x2="146.90" y1="448" y2="451" stroke="#000" stroke-width="1.1"/>
<text x="146.90" y="461.00" font-size="8.2" fill="#1a1a1a" text-anchor="middle" font-weight="normal" >0</text>
<line x1="175.65" x2="175.65" y1="448" y2="451" stroke="#000" stroke-width="1.1"/>
<text x="175.65" y="461.00" font-size="8.2" fill="#1a1a1a" text-anchor="middle" font-weight="normal" >1</text>
<line x1="204.40" x2="204.40" y1="448" y2="451" stroke="#000" stroke-width="1.1"/>
<text x="204.40" y="461.00" font-size="8.2" fill="#1a1a1a" text-anchor="middle" font-weight="normal" >2</text>
<line x1="233.15" x2="233.15" y1="448" y2="451" stroke="#000" stroke-width="1.1"/>
<text x="233.15" y="461.00" font-size="8.2" fill="#1a1a1a" text-anchor="middle" font-weight="normal" >3</text>
<text transform="translate(29.4,362.2) rotate(-90)" font-size="9" fill="#1a1a1a" text-anchor="middle">Cumulative distribution</text>
<text x="146.60" y="476.00" font-size="9.2" fill="#1a1a1a" text-anchor="middle" font-weight="normal" >Log (CD38<tspan dy="-3.2" font-size="5.5">+</tspan><tspan dy="3.2">/CD38</tspan><tspan dy="-3.2" font-size="5.5">-</tspan><tspan dy="3.2">)</tspan></text>
<text x="207.50" y="325.70" font-size="7.7" fill="#1a1a1a" text-anchor="start" font-weight="normal" >Genes</text>
<rect x="200.20" y="330.30" width="4.10" height="4.20" fill="#000000"/>
<text x="207.60" y="334.80" font-size="6.8" fill="#1a1a1a" text-anchor="start" font-weight="normal" >All</text>
<rect x="200.20" y="340.28" width="4.10" height="4.20" fill="#cc1f2b"/>
<text x="207.60" y="344.78" font-size="6.8" fill="#1a1a1a" text-anchor="start" font-weight="normal" >HSC</text>
<rect x="200.20" y="350.26" width="4.10" height="4.20" fill="#5aa05a"/>
<text x="207.60" y="354.76" font-size="6.8" fill="#1a1a1a" text-anchor="start" font-weight="normal" >MLP</text>
<rect x="200.20" y="360.24" width="4.10" height="4.20" fill="#dcbbe6"/>
<text x="207.60" y="364.74" font-size="6.8" fill="#1a1a1a" text-anchor="start" font-weight="normal" >MEP</text>
<rect x="200.20" y="370.22" width="4.10" height="4.20" fill="#5fb5b5"/>
<text x="207.60" y="374.72" font-size="6.8" fill="#1a1a1a" text-anchor="start" font-weight="normal" >GMP</text>
<rect x="200.20" y="380.20" width="4.10" height="4.20" fill="#a7e1f1"/>
<text x="207.60" y="384.70" font-size="6.8" fill="#1a1a1a" text-anchor="start" font-weight="normal" >CMP</text>
<rect x="200.20" y="390.18" width="4.10" height="4.20" fill="#2e4f80"/>
<text x="207.60" y="394.68" font-size="6.8" fill="#1a1a1a" text-anchor="start" font-weight="normal" >ProB</text>
<rect x="200.20" y="400.16" width="4.10" height="4.20" fill="#7ea7df"/>
<text x="207.60" y="404.66" font-size="6.8" fill="#1a1a1a" text-anchor="start" font-weight="normal" >B-NK</text>
<rect x="200.20" y="410.14" width="4.10" height="4.20" fill="#111111"/>
<text x="207.60" y="414.64" font-size="6.8" fill="#1a1a1a" text-anchor="start" font-weight="normal" >ETP</text>
<text x="257.20" y="266.70" font-size="12" fill="#000" text-anchor="start" font-weight="bold" >D</text>
<circle cx="421.89" cy="351.69" r="1.6" fill="#6e0f1e"/>
<circle cx="379.51" cy="319.17" r="1.6" fill="#6e0f1e"/>
<circle cx="400.84" cy="388.47" r="1.5" fill="#fff" fill-opacity="0.5" stroke="#8e1826" stroke-width="1.0"/>
<circle cx="379.83" cy="359.41" r="1.5" fill="#fff" fill-opacity="0.5" stroke="#8e1826" stroke-width="1.0"/>
<path d="M402.68,378.86 L404.53,375.53 L400.83,375.53 Z" fill="#c2404f" fill-opacity="0.6" stroke="#8e1826" stroke-width="0.95" stroke-linejoin="round"/>
<path d="M402.11,351.46 L403.96,354.79 L400.26,354.79 Z" fill="#c2404f" fill-opacity="0.6" stroke="#8e1826" stroke-width="0.95" stroke-linejoin="round"/>
<circle cx="415.10" cy="346.63" r="1.6" fill="#6e0f1e"/>
<path d="M398.59,370.04 L400.44,366.71 L396.74,366.71 Z" fill="#c2404f" fill-opacity="0.6" stroke="#8e1826" stroke-width="0.95" stroke-linejoin="round"/>
<path d="M373.46,327.35 L375.31,330.68 L371.61,330.68 Z" fill="#c2404f" fill-opacity="0.6" stroke="#8e1826" stroke-width="0.95" stroke-linejoin="round"/>
<circle cx="355.81" cy="341.26" r="1.6" fill="#6e0f1e"/>
<path d="M393.88,357.68 L395.73,354.35 L392.03,354.35 Z" fill="#c2404f" fill-opacity="0.6" stroke="#8e1826" stroke-width="0.95" stroke-linejoin="round"/>
<path d="M364.14,344.72 L365.99,341.39 L362.29,341.39 Z" fill="#b5d3ee" fill-opacity="0.6" stroke="#5b90c5" stroke-width="0.95" stroke-linejoin="round"/>
<path d="M421.51,341.48 L423.36,338.15 L419.66,338.15 Z" fill="#c2404f" fill-opacity="0.6" stroke="#8e1826" stroke-width="0.95" stroke-linejoin="round"/>
<path d="M391.19,364.44 L393.04,367.77 L389.34,367.77 Z" fill="#c2404f" fill-opacity="0.6" stroke="#8e1826" stroke-width="0.95" stroke-linejoin="round"/>
<circle cx="391.97" cy="343.09" r="1.5" fill="#fff" fill-opacity="0.5" stroke="#8e1826" stroke-width="1.0"/>
<path d="M416.95,337.29 L418.80,333.96 L415.10,333.96 Z" fill="#c2404f" fill-opacity="0.6" stroke="#8e1826" stroke-width="0.95" stroke-linejoin="round"/>
<circle cx="389.66" cy="361.79" r="1.5" fill="#fff" fill-opacity="0.5" stroke="#8e1826" stroke-width="1.0"/>
<path d="M413.26,350.29 L415.11,353.62 L411.41,353.62 Z" fill="#c2404f" fill-opacity="0.6" stroke="#8e1826" stroke-width="0.95" stroke-linejoin="round"/>
<path d="M435.65,367.03 L437.50,370.36 L433.80,370.36 Z" fill="#c2404f" fill-opacity="0.6" stroke="#8e1826" stroke-width="0.95" stroke-linejoin="round"/>
<circle cx="400.50" cy="372.03" r="1.6" fill="#6e0f1e"/>
<path d="M392.52,348.21 L394.37,351.54 L390.67,351.54 Z" fill="#c2404f" fill-opacity="0.6" stroke="#8e1826" stroke-width="0.95" stroke-linejoin="round"/>
<path d="M416.84,360.75 L418.69,357.42 L414.99,357.42 Z" fill="#c2404f" fill-opacity="0.6" stroke="#8e1826" stroke-width="0.95" stroke-linejoin="round"/>
<circle cx="421.00" cy="333.49" r="1.5" fill="#fff" fill-opacity="0.5" stroke="#8e1826" stroke-width="1.0"/>
<path d="M384.18,342.41 L386.03,339.08 L382.33,339.08 Z" fill="#c2404f" fill-opacity="0.6" stroke="#8e1826" stroke-width="0.95" stroke-linejoin="round"/>
<path d="M411.95,375.34 L413.80,372.01 L410.10,372.01 Z" fill="#c2404f" fill-opacity="0.6" stroke="#8e1826" stroke-width="0.95" stroke-linejoin="round"/>
<circle cx="401.70" cy="335.26" r="1.5" fill="#fff" fill-opacity="0.5" stroke="#8e1826" stroke-width="1.0"/>
<path d="M404.42,358.98 L406.27,362.31 L402.57,362.31 Z" fill="#c2404f" fill-opacity="0.6" stroke="#8e1826" stroke-width="0.95" stroke-linejoin="round"/>
<circle cx="369.40" cy="335.27" r="1.5" fill="#fff" fill-opacity="0.5" stroke="#8e1826" stroke-width="1.0"/>
<path d="M396.82,363.55 L398.67,360.22 L394.97,360.22 Z" fill="#c2404f" fill-opacity="0.6" stroke="#8e1826" stroke-width="0.95" stroke-linejoin="round"/>
<path d="M389.43,333.42 L391.28,330.09 L387.58,330.09 Z" fill="#c2404f" fill-opacity="0.6" stroke="#8e1826" stroke-width="0.95" stroke-linejoin="round"/>
<circle cx="380.64" cy="322.58" r="1.5" fill="#fff" fill-opacity="0.5" stroke="#8e1826" stroke-width="1.0"/>
<circle cx="422.27" cy="364.70" r="1.5" fill="#fff" fill-opacity="0.5" stroke="#8e1826" stroke-width="1.0"/>
<path d="M411.60,379.57 L413.45,376.24 L409.75,376.24 Z" fill="#c2404f" fill-opacity="0.6" stroke="#8e1826" stroke-width="0.95" stroke-linejoin="round"/>
<path d="M379.24,339.16 L381.09,335.83 L377.39,335.83 Z" fill="#c2404f" fill-opacity="0.6" stroke="#8e1826" stroke-width="0.95" stroke-linejoin="round"/>
<path d="M395.34,325.19 L397.19,321.86 L393.49,321.86 Z" fill="#c2404f" fill-opacity="0.6" stroke="#8e1826" stroke-width="0.95" stroke-linejoin="round"/>
<circle cx="365.05" cy="346.97" r="1.6" fill="#6e0f1e"/>
<path d="M405.64,369.62 L407.49,372.95 L403.79,372.95 Z" fill="#c2404f" fill-opacity="0.6" stroke="#8e1826" stroke-width="0.95" stroke-linejoin="round"/>
<path d="M412.07,328.92 L413.92,332.25 L410.22,332.25 Z" fill="#c2404f" fill-opacity="0.6" stroke="#8e1826" stroke-width="0.95" stroke-linejoin="round"/>
<circle cx="398.45" cy="344.99" r="1.6" fill="#6e0f1e"/>
<path d="M408.49,331.00 L410.34,327.67 L406.64,327.67 Z" fill="#c2404f" fill-opacity="0.6" stroke="#8e1826" stroke-width="0.95" stroke-linejoin="round"/>
<circle cx="421.42" cy="357.18" r="1.6" fill="#6e0f1e"/>
<path d="M405.59,325.27 L407.44,321.94 L403.74,321.94 Z" fill="#c2404f" fill-opacity="0.6" stroke="#8e1826" stroke-width="0.95" stroke-linejoin="round"/>
<circle cx="427.50" cy="363.27" r="1.5" fill="#fff" fill-opacity="0.5" stroke="#8e1826" stroke-width="1.0"/>
<path d="M396.67,336.24 L398.52,339.57 L394.82,339.57 Z" fill="#c2404f" fill-opacity="0.6" stroke="#8e1826" stroke-width="0.95" stroke-linejoin="round"/>
<circle cx="402.17" cy="348.09" r="1.5" fill="#fff" fill-opacity="0.5" stroke="#8e1826" stroke-width="1.0"/>
<path d="M409.15,336.15 L411.00,339.48 L407.30,339.48 Z" fill="#c2404f" fill-opacity="0.6" stroke="#8e1826" stroke-width="0.95" stroke-linejoin="round"/>
<circle cx="385.89" cy="354.39" r="1.5" fill="#fff" fill-opacity="0.5" stroke="#8e1826" stroke-width="1.0"/>
<circle cx="400.34" cy="326.47" r="1.5" fill="#fff" fill-opacity="0.5" stroke="#8e1826" stroke-width="1.0"/>
<path d="M406.14,350.40 L407.99,347.07 L404.29,347.07 Z" fill="#c2404f" fill-opacity="0.6" stroke="#8e1826" stroke-width="0.95" stroke-linejoin="round"/>
<path d="M388.44,349.38 L390.29,346.05 L386.59,346.05 Z" fill="#c2404f" fill-opacity="0.6" stroke="#8e1826" stroke-width="0.95" stroke-linejoin="round"/>
<circle cx="391.98" cy="337.64" r="1.6" fill="#6e0f1e"/>
<path d="M411.79,348.96 L413.64,345.63 L409.94,345.63 Z" fill="#c2404f" fill-opacity="0.6" stroke="#8e1826" stroke-width="0.95" stroke-linejoin="round"/>
<circle cx="367.95" cy="343.96" r="1.6" fill="#6e0f1e"/>
<circle cx="416.50" cy="350.14" r="1.5" fill="#fff" fill-opacity="0.5" stroke="#8e1826" stroke-width="1.0"/>
<path d="M391.54,376.34 L393.39,373.01 L389.69,373.01 Z" fill="#c2404f" fill-opacity="0.6" stroke="#8e1826" stroke-width="0.95" stroke-linejoin="round"/>
<circle cx="402.06" cy="383.51" r="1.6" fill="#6e0f1e"/>
<path d="M374.86,342.53 L376.71,339.20 L373.01,339.20 Z" fill="#c2404f" fill-opacity="0.6" stroke="#8e1826" stroke-width="0.95" stroke-linejoin="round"/>
<circle cx="396.03" cy="373.77" r="1.5" fill="#fff" fill-opacity="0.5" stroke="#8e1826" stroke-width="1.0"/>
<path d="M376.93,324.47 L378.78,321.14 L375.08,321.14 Z" fill="#c2404f" fill-opacity="0.6" stroke="#8e1826" stroke-width="0.95" stroke-linejoin="round"/>
<circle cx="428.23" cy="369.67" r="1.6" fill="#6e0f1e"/>
<path d="M394.87,332.91 L396.72,336.24 L393.02,336.24 Z" fill="#c2404f" fill-opacity="0.6" stroke="#8e1826" stroke-width="0.95" stroke-linejoin="round"/>
<circle cx="414.56" cy="326.41" r="1.5" fill="#fff" fill-opacity="0.5" stroke="#8e1826" stroke-width="1.0"/>
<path d="M403.44,365.21 L405.29,368.54 L401.59,368.54 Z" fill="#c2404f" fill-opacity="0.6" stroke="#8e1826" stroke-width="0.95" stroke-linejoin="round"/>
<path d="M415.33,364.11 L417.18,367.44 L413.48,367.44 Z" fill="#c2404f" fill-opacity="0.6" stroke="#8e1826" stroke-width="0.95" stroke-linejoin="round"/>
<path d="M387.26,355.71 L389.11,359.04 L385.41,359.04 Z" fill="#c2404f" fill-opacity="0.6" stroke="#8e1826" stroke-width="0.95" stroke-linejoin="round"/>
<circle cx="415.33" cy="342.40" r="1.6" fill="#6e0f1e"/>
<circle cx="385.75" cy="370.34" r="1.5" fill="#fff" fill-opacity="0.5" stroke="#8e1826" stroke-width="1.0"/>
<path d="M376.18,336.25 L378.03,332.92 L374.33,332.92 Z" fill="#c2404f" fill-opacity="0.6" stroke="#8e1826" stroke-width="0.95" stroke-linejoin="round"/>
<circle cx="381.57" cy="363.05" r="1.6" fill="#6e0f1e"/>
<path d="M406.62,383.99 L408.47,380.66 L404.77,380.66 Z" fill="#c2404f" fill-opacity="0.6" stroke="#8e1826" stroke-width="0.95" stroke-linejoin="round"/>
<path d="M412.89,337.92 L414.74,334.59 L411.04,334.59 Z" fill="#c2404f" fill-opacity="0.6" stroke="#8e1826" stroke-width="0.95" stroke-linejoin="round"/>
<circle cx="420.02" cy="377.48" r="1.5" fill="#fff" fill-opacity="0.5" stroke="#8e1826" stroke-width="1.0"/>
<path d="M379.64,367.87 L381.49,364.54 L377.79,364.54 Z" fill="#c2404f" fill-opacity="0.6" stroke="#8e1826" stroke-width="0.95" stroke-linejoin="round"/>
<circle cx="401.55" cy="362.91" r="1.5" fill="#fff" fill-opacity="0.5" stroke="#8e1826" stroke-width="1.0"/>
<circle cx="411.73" cy="364.48" r="1.6" fill="#6e0f1e"/>
<path d="M410.25,344.10 L412.10,340.77 L408.40,340.77 Z" fill="#c2404f" fill-opacity="0.6" stroke="#8e1826" stroke-width="0.95" stroke-linejoin="round"/>
<path d="M391.52,356.92 L393.37,360.25 L389.67,360.25 Z" fill="#c2404f" fill-opacity="0.6" stroke="#8e1826" stroke-width="0.95" stroke-linejoin="round"/>
<path d="M422.67,374.58 L424.52,371.25 L420.82,371.25 Z" fill="#c2404f" fill-opacity="0.6" stroke="#8e1826" stroke-width="0.95" stroke-linejoin="round"/>
<path d="M405.63,388.26 L407.48,384.93 L403.78,384.93 Z" fill="#c2404f" fill-opacity="0.6" stroke="#8e1826" stroke-width="0.95" stroke-linejoin="round"/>
<path d="M409.89,353.14 L411.74,349.81 L408.04,349.81 Z" fill="#c2404f" fill-opacity="0.6" stroke="#8e1826" stroke-width="0.95" stroke-linejoin="round"/>
<path d="M409.83,353.46 L411.68,356.79 L407.98,356.79 Z" fill="#c2404f" fill-opacity="0.6" stroke="#8e1826" stroke-width="0.95" stroke-linejoin="round"/>
<path d="M383.71,349.89 L385.56,346.56 L381.86,346.56 Z" fill="#c2404f" fill-opacity="0.6" stroke="#8e1826" stroke-width="0.95" stroke-linejoin="round"/>
<path d="M410.61,369.55 L412.46,366.22 L408.76,366.22 Z" fill="#b5d3ee" fill-opacity="0.6" stroke="#5b90c5" stroke-width="0.95" stroke-linejoin="round"/>
<path d="M426.43,352.83 L428.28,356.16 L424.58,356.16 Z" fill="#c2404f" fill-opacity="0.6" stroke="#8e1826" stroke-width="0.95" stroke-linejoin="round"/>
<path d="M395.49,328.95 L397.34,332.28 L393.64,332.28 Z" fill="#c2404f" fill-opacity="0.6" stroke="#8e1826" stroke-width="0.95" stroke-linejoin="round"/>
<path d="M434.54,374.46 L436.39,371.13 L432.69,371.13 Z" fill="#c2404f" fill-opacity="0.6" stroke="#8e1826" stroke-width="0.95" stroke-linejoin="round"/>
<circle cx="377.23" cy="348.03" r="1.5" fill="#fff" fill-opacity="0.5" stroke="#8e1826" stroke-width="1.0"/>
<path d="M375.79,350.56 L377.64,353.89 L373.94,353.89 Z" fill="#c2404f" fill-opacity="0.6" stroke="#8e1826" stroke-width="0.95" stroke-linejoin="round"/>
<circle cx="431.49" cy="361.21" r="1.6" fill="#6e0f1e"/>
<path d="M381.31,332.34 L383.16,329.01 L379.46,329.01 Z" fill="#c2404f" fill-opacity="0.6" stroke="#8e1826" stroke-width="0.95" stroke-linejoin="round"/>
<circle cx="357.97" cy="343.82" r="1.5" fill="#fff" fill-opacity="0.5" stroke="#8e1826" stroke-width="1.0"/>
<circle cx="406.84" cy="368.27" r="1.5" fill="#fff" fill-opacity="0.5" stroke="#8e1826" stroke-width="1.0"/>
<path d="M392.12,372.37 L393.97,369.04 L390.27,369.04 Z" fill="#c2404f" fill-opacity="0.6" stroke="#8e1826" stroke-width="0.95" stroke-linejoin="round"/>
<path d="M387.68,338.60 L389.53,341.93 L385.83,341.93 Z" fill="#c2404f" fill-opacity="0.6" stroke="#8e1826" stroke-width="0.95" stroke-linejoin="round"/>
<circle cx="397.92" cy="349.36" r="1.5" fill="#fff" fill-opacity="0.5" stroke="#8e1826" stroke-width="1.0"/>
<circle cx="375.25" cy="344.32" r="1.5" fill="#fff" fill-opacity="0.5" stroke="#8e1826" stroke-width="1.0"/>
<path d="M423.63,338.83 L425.48,335.50 L421.78,335.50 Z" fill="#c2404f" fill-opacity="0.6" stroke="#8e1826" stroke-width="0.95" stroke-linejoin="round"/>
<path d="M417.42,356.83 L419.27,353.50 L415.57,353.50 Z" fill="#c2404f" fill-opacity="0.6" stroke="#8e1826" stroke-width="0.95" stroke-linejoin="round"/>
<circle cx="380.58" cy="344.64" r="1.5" fill="#fff" fill-opacity="0.5" stroke="#8e1826" stroke-width="1.0"/>
<path d="M416.34,376.79 L418.19,373.46 L414.49,373.46 Z" fill="#c2404f" fill-opacity="0.6" stroke="#8e1826" stroke-width="0.95" stroke-linejoin="round"/>
<path d="M415.18,369.02 L417.03,372.35 L413.33,372.35 Z" fill="#c2404f" fill-opacity="0.6" stroke="#8e1826" stroke-width="0.95" stroke-linejoin="round"/>
<circle cx="387.82" cy="365.36" r="1.6" fill="#6e0f1e"/>
<path d="M414.90,377.89 L416.75,381.22 L413.05,381.22 Z" fill="#c2404f" fill-opacity="0.6" stroke="#8e1826" stroke-width="0.95" stroke-linejoin="round"/>
<path d="M386.89,326.38 L388.74,329.71 L385.04,329.71 Z" fill="#c2404f" fill-opacity="0.6" stroke="#8e1826" stroke-width="0.95" stroke-linejoin="round"/>
<path d="M408.93,362.66 L410.78,359.33 L407.08,359.33 Z" fill="#c2404f" fill-opacity="0.6" stroke="#8e1826" stroke-width="0.95" stroke-linejoin="round"/>
<circle cx="360.86" cy="345.95" r="1.6" fill="#6e0f1e"/>
<circle cx="405.31" cy="342.74" r="1.5" fill="#fff" fill-opacity="0.5" stroke="#8e1826" stroke-width="1.0"/>
<circle cx="426.63" cy="366.52" r="1.6" fill="#6e0f1e"/>
<path d="M400.76,337.57 L402.61,340.90 L398.91,340.90 Z" fill="#c2404f" fill-opacity="0.6" stroke="#8e1826" stroke-width="0.95" stroke-linejoin="round"/>
<path d="M385.04,336.15 L386.89,332.82 L383.19,332.82 Z" fill="#c2404f" fill-opacity="0.6" stroke="#8e1826" stroke-width="0.95" stroke-linejoin="round"/>
<path d="M391.80,377.58 L393.65,380.91 L389.95,380.91 Z" fill="#c2404f" fill-opacity="0.6" stroke="#8e1826" stroke-width="0.95" stroke-linejoin="round"/>
<circle cx="404.12" cy="356.80" r="1.6" fill="#6e0f1e"/>
<path d="M422.73,366.90 L424.58,370.23 L420.88,370.23 Z" fill="#c2404f" fill-opacity="0.6" stroke="#8e1826" stroke-width="0.95" stroke-linejoin="round"/>
<path d="M430.85,366.60 L432.70,363.27 L429.00,363.27 Z" fill="#c2404f" fill-opacity="0.6" stroke="#8e1826" stroke-width="0.95" stroke-linejoin="round"/>
<path d="M417.72,341.07 L419.57,337.74 L415.87,337.74 Z" fill="#c2404f" fill-opacity="0.6" stroke="#8e1826" stroke-width="0.95" stroke-linejoin="round"/>
<path d="M376.47,357.88 L378.32,354.55 L374.62,354.55 Z" fill="#b5d3ee" fill-opacity="0.6" stroke="#5b90c5" stroke-width="0.95" stroke-linejoin="round"/>
<path d="M418.55,346.98 L420.40,343.65 L416.70,343.65 Z" fill="#c2404f" fill-opacity="0.6" stroke="#8e1826" stroke-width="0.95" stroke-linejoin="round"/>
<circle cx="406.56" cy="376.59" r="1.6" fill="#6e0f1e"/>
<path d="M399.07,380.02 L400.92,376.69 L397.22,376.69 Z" fill="#c2404f" fill-opacity="0.6" stroke="#8e1826" stroke-width="0.95" stroke-linejoin="round"/>
<circle cx="388.71" cy="324.74" r="1.5" fill="#fff" fill-opacity="0.5" stroke="#8e1826" stroke-width="1.0"/>
<circle cx="404.16" cy="331.03" r="1.6" fill="#6e0f1e"/>
<path d="M406.67,352.30 L408.52,355.63 L404.82,355.63 Z" fill="#c2404f" fill-opacity="0.6" stroke="#8e1826" stroke-width="0.95" stroke-linejoin="round"/>
<circle cx="380.40" cy="353.75" r="1.6" fill="#6e0f1e"/>
<circle cx="431.77" cy="370.60" r="1.5" fill="#fff" fill-opacity="0.5" stroke="#8e1826" stroke-width="1.0"/>
<path d="M398.15,356.36 L400.00,353.03 L396.30,353.03 Z" fill="#c2404f" fill-opacity="0.6" stroke="#8e1826" stroke-width="0.95" stroke-linejoin="round"/>
<circle cx="418.46" cy="362.49" r="1.6" fill="#6e0f1e"/>
<path d="M394.86,342.82 L396.71,339.49 L393.01,339.49 Z" fill="#c2404f" fill-opacity="0.6" stroke="#8e1826" stroke-width="0.95" stroke-linejoin="round"/>
<circle cx="395.64" cy="365.44" r="1.6" fill="#6e0f1e"/>
<circle cx="467.07" cy="308.21" r="1.6" fill="#4f80b3"/>
<path d="M458.12,306.83 L459.97,303.50 L456.27,303.50 Z" fill="#b5d3ee" fill-opacity="0.6" stroke="#5b90c5" stroke-width="0.95" stroke-linejoin="round"/>
<circle cx="460.69" cy="309.16" r="1.6" fill="#4f80b3"/>
<path d="M456.54,317.43 L458.39,320.76 L454.69,320.76 Z" fill="#b5d3ee" fill-opacity="0.6" stroke="#5b90c5" stroke-width="0.95" stroke-linejoin="round"/>
<circle cx="467.38" cy="317.20" r="1.6" fill="#4f80b3"/>
<circle cx="449.95" cy="308.33" r="1.5" fill="#fff" fill-opacity="0.5" stroke="#5b90c5" stroke-width="1.0"/>
<circle cx="454.55" cy="306.01" r="1.5" fill="#fff" fill-opacity="0.5" stroke="#5b90c5" stroke-width="1.0"/>
<path d="M464.55,309.24 L466.40,312.57 L462.70,312.57 Z" fill="#b5d3ee" fill-opacity="0.6" stroke="#5b90c5" stroke-width="0.95" stroke-linejoin="round"/>
<circle cx="464.03" cy="320.57" r="1.6" fill="#4f80b3"/>
<path d="M457.58,315.21 L459.43,311.88 L455.73,311.88 Z" fill="#b5d3ee" fill-opacity="0.6" stroke="#5b90c5" stroke-width="0.95" stroke-linejoin="round"/>
<circle cx="455.13" cy="301.99" r="1.6" fill="#4f80b3"/>
<circle cx="454.21" cy="316.70" r="1.5" fill="#fff" fill-opacity="0.5" stroke="#5b90c5" stroke-width="1.0"/>
<circle cx="462.08" cy="325.92" r="1.5" fill="#fff" fill-opacity="0.5" stroke="#5b90c5" stroke-width="1.0"/>
<circle cx="457.08" cy="323.80" r="1.6" fill="#4f80b3"/>
<circle cx="452.04" cy="311.93" r="1.6" fill="#4f80b3"/>
<circle cx="461.10" cy="318.79" r="1.5" fill="#fff" fill-opacity="0.5" stroke="#5b90c5" stroke-width="1.0"/>
<path d="M465.71,322.37 L467.56,325.70 L463.86,325.70 Z" fill="#b5d3ee" fill-opacity="0.6" stroke="#5b90c5" stroke-width="0.95" stroke-linejoin="round"/>
<circle cx="469.17" cy="313.72" r="1.5" fill="#fff" fill-opacity="0.5" stroke="#5b90c5" stroke-width="1.0"/>
<path d="M463.75,305.15 L465.60,308.48 L461.90,308.48 Z" fill="#b5d3ee" fill-opacity="0.6" stroke="#5b90c5" stroke-width="0.95" stroke-linejoin="round"/>
<path d="M464.27,317.12 L466.12,313.79 L462.42,313.79 Z" fill="#b5d3ee" fill-opacity="0.6" stroke="#5b90c5" stroke-width="0.95" stroke-linejoin="round"/>
<circle cx="467.93" cy="321.24" r="1.6" fill="#4f80b3"/>
<circle cx="451.06" cy="302.75" r="1.6" fill="#4f80b3"/>
<path d="M461.06,311.74 L462.91,315.07 L459.21,315.07 Z" fill="#b5d3ee" fill-opacity="0.6" stroke="#5b90c5" stroke-width="0.95" stroke-linejoin="round"/>
<path d="M455.63,311.25 L457.48,307.92 L453.78,307.92 Z" fill="#b5d3ee" fill-opacity="0.6" stroke="#5b90c5" stroke-width="0.95" stroke-linejoin="round"/>
<circle cx="461.73" cy="304.10" r="1.5" fill="#fff" fill-opacity="0.5" stroke="#5b90c5" stroke-width="1.0"/>
<circle cx="469.92" cy="310.35" r="1.5" fill="#fff" fill-opacity="0.5" stroke="#5b90c5" stroke-width="1.0"/>
<circle cx="450.90" cy="315.04" r="1.5" fill="#fff" fill-opacity="0.5" stroke="#5b90c5" stroke-width="1.0"/>
<circle cx="468.79" cy="349.98" r="1.6" fill="#4f80b3"/>
<path d="M468.73,338.04 L470.58,341.37 L466.88,341.37 Z" fill="#b5d3ee" fill-opacity="0.6" stroke="#5b90c5" stroke-width="0.95" stroke-linejoin="round"/>
<path d="M460.72,342.09 L462.57,345.42 L458.87,345.42 Z" fill="#b5d3ee" fill-opacity="0.6" stroke="#5b90c5" stroke-width="0.95" stroke-linejoin="round"/>
<path d="M476.07,350.67 L477.92,354.00 L474.22,354.00 Z" fill="#b5d3ee" fill-opacity="0.6" stroke="#5b90c5" stroke-width="0.95" stroke-linejoin="round"/>
<circle cx="466.99" cy="356.19" r="1.5" fill="#fff" fill-opacity="0.5" stroke="#5b90c5" stroke-width="1.0"/>
<path d="M467.29,341.63 L469.14,344.96 L465.44,344.96 Z" fill="#b5d3ee" fill-opacity="0.6" stroke="#5b90c5" stroke-width="0.95" stroke-linejoin="round"/>
<path d="M460.48,355.99 L462.33,352.66 L458.63,352.66 Z" fill="#b5d3ee" fill-opacity="0.6" stroke="#5b90c5" stroke-width="0.95" stroke-linejoin="round"/>
<path d="M463.89,355.59 L465.74,358.92 L462.04,358.92 Z" fill="#b5d3ee" fill-opacity="0.6" stroke="#5b90c5" stroke-width="0.95" stroke-linejoin="round"/>
<path d="M464.82,347.60 L466.67,350.93 L462.97,350.93 Z" fill="#b5d3ee" fill-opacity="0.6" stroke="#5b90c5" stroke-width="0.95" stroke-linejoin="round"/>
<circle cx="487.42" cy="349.33" r="1.6" fill="#4f80b3"/>
<path d="M483.55,347.64 L485.40,350.97 L481.70,350.97 Z" fill="#b5d3ee" fill-opacity="0.6" stroke="#5b90c5" stroke-width="0.95" stroke-linejoin="round"/>
<circle cx="476.62" cy="346.94" r="1.5" fill="#fff" fill-opacity="0.5" stroke="#5b90c5" stroke-width="1.0"/>
<circle cx="478.07" cy="340.17" r="1.5" fill="#fff" fill-opacity="0.5" stroke="#5b90c5" stroke-width="1.0"/>
<path d="M473.42,344.42 L475.27,341.09 L471.57,341.09 Z" fill="#b5d3ee" fill-opacity="0.6" stroke="#5b90c5" stroke-width="0.95" stroke-linejoin="round"/>
<circle cx="455.73" cy="349.20" r="1.5" fill="#fff" fill-opacity="0.5" stroke="#5b90c5" stroke-width="1.0"/>
<circle cx="473.83" cy="356.31" r="1.6" fill="#4f80b3"/>
<path d="M464.89,334.41 L466.74,337.74 L463.04,337.74 Z" fill="#b5d3ee" fill-opacity="0.6" stroke="#5b90c5" stroke-width="0.95" stroke-linejoin="round"/>
<path d="M470.70,338.62 L472.55,335.29 L468.85,335.29 Z" fill="#b5d3ee" fill-opacity="0.6" stroke="#5b90c5" stroke-width="0.95" stroke-linejoin="round"/>
<path d="M482.14,347.69 L483.99,344.36 L480.29,344.36 Z" fill="#b5d3ee" fill-opacity="0.6" stroke="#5b90c5" stroke-width="0.95" stroke-linejoin="round"/>
<path d="M464.14,339.71 L465.99,343.04 L462.29,343.04 Z" fill="#b5d3ee" fill-opacity="0.6" stroke="#5b90c5" stroke-width="0.95" stroke-linejoin="round"/>
<circle cx="491.96" cy="352.29" r="1.6" fill="#4f80b3"/>
<path d="M480.29,351.08 L482.14,354.41 L478.44,354.41 Z" fill="#b5d3ee" fill-opacity="0.6" stroke="#5b90c5" stroke-width="0.95" stroke-linejoin="round"/>
<path d="M457.32,344.16 L459.17,340.83 L455.47,340.83 Z" fill="#b5d3ee" fill-opacity="0.6" stroke="#5b90c5" stroke-width="0.95" stroke-linejoin="round"/>
<path d="M486.32,351.14 L488.17,354.47 L484.47,354.47 Z" fill="#b5d3ee" fill-opacity="0.6" stroke="#5b90c5" stroke-width="0.95" stroke-linejoin="round"/>
<circle cx="484.97" cy="343.56" r="1.6" fill="#4f80b3"/>
<circle cx="447.53" cy="384.31" r="1.6" fill="#4f80b3"/>
<path d="M472.35,386.01 L474.20,389.34 L470.50,389.34 Z" fill="#b5d3ee" fill-opacity="0.6" stroke="#5b90c5" stroke-width="0.95" stroke-linejoin="round"/>
<path d="M457.30,386.12 L459.15,382.79 L455.45,382.79 Z" fill="#b5d3ee" fill-opacity="0.6" stroke="#5b90c5" stroke-width="0.95" stroke-linejoin="round"/>
<path d="M465.42,380.65 L467.27,383.98 L463.57,383.98 Z" fill="#b5d3ee" fill-opacity="0.6" stroke="#5b90c5" stroke-width="0.95" stroke-linejoin="round"/>
<path d="M484.03,389.68 L485.88,393.01 L482.18,393.01 Z" fill="#b5d3ee" fill-opacity="0.6" stroke="#5b90c5" stroke-width="0.95" stroke-linejoin="round"/>
<path d="M473.16,401.15 L475.01,397.82 L471.31,397.82 Z" fill="#b5d3ee" fill-opacity="0.6" stroke="#5b90c5" stroke-width="0.95" stroke-linejoin="round"/>
<path d="M443.70,402.50 L445.55,405.83 L441.85,405.83 Z" fill="#b5d3ee" fill-opacity="0.6" stroke="#5b90c5" stroke-width="0.95" stroke-linejoin="round"/>
<circle cx="433.77" cy="395.73" r="1.6" fill="#4f80b3"/>
<circle cx="464.62" cy="419.24" r="1.5" fill="#fff" fill-opacity="0.5" stroke="#5b90c5" stroke-width="1.0"/>
<path d="M458.45,389.31 L460.30,392.64 L456.60,392.64 Z" fill="#b5d3ee" fill-opacity="0.6" stroke="#5b90c5" stroke-width="0.95" stroke-linejoin="round"/>
<circle cx="444.36" cy="390.37" r="1.6" fill="#4f80b3"/>
<circle cx="488.07" cy="397.67" r="1.6" fill="#4f80b3"/>
<path d="M469.55,435.69 L471.40,432.36 L467.70,432.36 Z" fill="#b5d3ee" fill-opacity="0.6" stroke="#5b90c5" stroke-width="0.95" stroke-linejoin="round"/>
<circle cx="461.60" cy="434.49" r="1.6" fill="#4f80b3"/>
<path d="M434.79,407.22 L436.64,403.89 L432.94,403.89 Z" fill="#b5d3ee" fill-opacity="0.6" stroke="#5b90c5" stroke-width="0.95" stroke-linejoin="round"/>
<path d="M456.51,372.13 L458.36,368.80 L454.66,368.80 Z" fill="#b5d3ee" fill-opacity="0.6" stroke="#5b90c5" stroke-width="0.95" stroke-linejoin="round"/>
<path d="M488.69,402.89 L490.54,406.22 L486.84,406.22 Z" fill="#b5d3ee" fill-opacity="0.6" stroke="#5b90c5" stroke-width="0.95" stroke-linejoin="round"/>
<circle cx="460.41" cy="401.02" r="1.6" fill="#4f80b3"/>
<path d="M461.32,414.56 L463.17,411.23 L459.47,411.23 Z" fill="#b5d3ee" fill-opacity="0.6" stroke="#5b90c5" stroke-width="0.95" stroke-linejoin="round"/>
<path d="M448.58,409.57 L450.43,406.24 L446.73,406.24 Z" fill="#b5d3ee" fill-opacity="0.6" stroke="#5b90c5" stroke-width="0.95" stroke-linejoin="round"/>
<circle cx="453.47" cy="422.19" r="1.5" fill="#fff" fill-opacity="0.5" stroke="#5b90c5" stroke-width="1.0"/>
<circle cx="439.37" cy="397.82" r="1.6" fill="#4f80b3"/>
<path d="M472.91,431.77 L474.76,435.10 L471.06,435.10 Z" fill="#b5d3ee" fill-opacity="0.6" stroke="#5b90c5" stroke-width="0.95" stroke-linejoin="round"/>
<circle cx="450.50" cy="398.88" r="1.6" fill="#4f80b3"/>
<path d="M459.09,415.99 L460.94,419.32 L457.24,419.32 Z" fill="#b5d3ee" fill-opacity="0.6" stroke="#5b90c5" stroke-width="0.95" stroke-linejoin="round"/>
<circle cx="482.14" cy="381.60" r="1.5" fill="#fff" fill-opacity="0.5" stroke="#5b90c5" stroke-width="1.0"/>
<circle cx="443.04" cy="380.18" r="1.6" fill="#4f80b3"/>
<path d="M474.40,395.73 L476.25,392.40 L472.55,392.40 Z" fill="#b5d3ee" fill-opacity="0.6" stroke="#5b90c5" stroke-width="0.95" stroke-linejoin="round"/>
<path d="M472.43,431.40 L474.28,428.07 L470.58,428.07 Z" fill="#b5d3ee" fill-opacity="0.6" stroke="#5b90c5" stroke-width="0.95" stroke-linejoin="round"/>
<circle cx="440.01" cy="431.65" r="1.5" fill="#fff" fill-opacity="0.5" stroke="#5b90c5" stroke-width="1.0"/>
<circle cx="456.31" cy="432.81" r="1.5" fill="#fff" fill-opacity="0.5" stroke="#5b90c5" stroke-width="1.0"/>
<circle cx="445.75" cy="376.19" r="1.6" fill="#4f80b3"/>
<path d="M479.72,396.72 L481.57,400.05 L477.87,400.05 Z" fill="#b5d3ee" fill-opacity="0.6" stroke="#5b90c5" stroke-width="0.95" stroke-linejoin="round"/>
<path d="M480.91,379.86 L482.76,376.53 L479.06,376.53 Z" fill="#b5d3ee" fill-opacity="0.6" stroke="#5b90c5" stroke-width="0.95" stroke-linejoin="round"/>
<circle cx="439.35" cy="422.51" r="1.6" fill="#4f80b3"/>
<circle cx="446.30" cy="422.16" r="1.5" fill="#fff" fill-opacity="0.5" stroke="#5b90c5" stroke-width="1.0"/>
<circle cx="436.74" cy="392.64" r="1.6" fill="#4f80b3"/>
<circle cx="484.32" cy="386.09" r="1.6" fill="#4f80b3"/>
<circle cx="437.17" cy="400.60" r="1.5" fill="#fff" fill-opacity="0.5" stroke="#5b90c5" stroke-width="1.0"/>
<path d="M457.33,397.85 L459.18,394.52 L455.48,394.52 Z" fill="#b5d3ee" fill-opacity="0.6" stroke="#5b90c5" stroke-width="0.95" stroke-linejoin="round"/>
<circle cx="442.88" cy="374.29" r="1.6" fill="#4f80b3"/>
<circle cx="478.02" cy="387.97" r="1.6" fill="#4f80b3"/>
<circle cx="439.66" cy="379.63" r="1.5" fill="#fff" fill-opacity="0.5" stroke="#5b90c5" stroke-width="1.0"/>
<circle cx="441.18" cy="416.55" r="1.6" fill="#4f80b3"/>
<circle cx="481.48" cy="430.03" r="1.6" fill="#4f80b3"/>
<path d="M439.36,389.98 L441.21,386.65 L437.51,386.65 Z" fill="#b5d3ee" fill-opacity="0.6" stroke="#5b90c5" stroke-width="0.95" stroke-linejoin="round"/>
<path d="M443.50,424.25 L445.35,427.58 L441.65,427.58 Z" fill="#b5d3ee" fill-opacity="0.6" stroke="#5b90c5" stroke-width="0.95" stroke-linejoin="round"/>
<circle cx="480.49" cy="390.33" r="1.6" fill="#4f80b3"/>
<circle cx="467.89" cy="418.57" r="1.5" fill="#fff" fill-opacity="0.5" stroke="#5b90c5" stroke-width="1.0"/>
<circle cx="467.83" cy="379.30" r="1.5" fill="#fff" fill-opacity="0.5" stroke="#5b90c5" stroke-width="1.0"/>
<circle cx="452.96" cy="408.89" r="1.6" fill="#4f80b3"/>
<path d="M448.12,433.97 L449.97,437.30 L446.27,437.30 Z" fill="#b5d3ee" fill-opacity="0.6" stroke="#5b90c5" stroke-width="0.95" stroke-linejoin="round"/>
<path d="M446.27,395.71 L448.12,392.38 L444.42,392.38 Z" fill="#b5d3ee" fill-opacity="0.6" stroke="#5b90c5" stroke-width="0.95" stroke-linejoin="round"/>
<path d="M470.96,373.71 L472.81,377.04 L469.11,377.04 Z" fill="#b5d3ee" fill-opacity="0.6" stroke="#5b90c5" stroke-width="0.95" stroke-linejoin="round"/>
<path d="M473.49,439.44 L475.34,436.11 L471.64,436.11 Z" fill="#b5d3ee" fill-opacity="0.6" stroke="#5b90c5" stroke-width="0.95" stroke-linejoin="round"/>
<circle cx="449.28" cy="376.14" r="1.5" fill="#fff" fill-opacity="0.5" stroke="#5b90c5" stroke-width="1.0"/>
<path d="M443.86,398.16 L445.71,401.49 L442.01,401.49 Z" fill="#b5d3ee" fill-opacity="0.6" stroke="#5b90c5" stroke-width="0.95" stroke-linejoin="round"/>
<path d="M467.01,412.36 L468.86,409.03 L465.16,409.03 Z" fill="#b5d3ee" fill-opacity="0.6" stroke="#5b90c5" stroke-width="0.95" stroke-linejoin="round"/>
<path d="M470.47,395.07 L472.32,398.40 L468.62,398.40 Z" fill="#b5d3ee" fill-opacity="0.6" stroke="#5b90c5" stroke-width="0.95" stroke-linejoin="round"/>
<path d="M450.39,391.83 L452.24,388.50 L448.54,388.50 Z" fill="#b5d3ee" fill-opacity="0.6" stroke="#5b90c5" stroke-width="0.95" stroke-linejoin="round"/>
<circle cx="449.64" cy="430.92" r="1.5" fill="#fff" fill-opacity="0.5" stroke="#5b90c5" stroke-width="1.0"/>
<circle cx="434.99" cy="383.38" r="1.6" fill="#4f80b3"/>
<circle cx="463.08" cy="390.58" r="1.6" fill="#4f80b3"/>
<circle cx="464.34" cy="402.29" r="1.5" fill="#fff" fill-opacity="0.5" stroke="#5b90c5" stroke-width="1.0"/>
<path d="M436.11,388.40 L437.96,385.07 L434.26,385.07 Z" fill="#b5d3ee" fill-opacity="0.6" stroke="#5b90c5" stroke-width="0.95" stroke-linejoin="round"/>
<path d="M451.70,423.16 L453.55,426.49 L449.85,426.49 Z" fill="#b5d3ee" fill-opacity="0.6" stroke="#5b90c5" stroke-width="0.95" stroke-linejoin="round"/>
<path d="M459.52,370.87 L461.37,374.20 L457.67,374.20 Z" fill="#b5d3ee" fill-opacity="0.6" stroke="#5b90c5" stroke-width="0.95" stroke-linejoin="round"/>
<circle cx="466.13" cy="414.46" r="1.5" fill="#fff" fill-opacity="0.5" stroke="#5b90c5" stroke-width="1.0"/>
<circle cx="485.15" cy="420.61" r="1.5" fill="#fff" fill-opacity="0.5" stroke="#5b90c5" stroke-width="1.0"/>
<path d="M440.66,394.23 L442.51,390.90 L438.81,390.90 Z" fill="#b5d3ee" fill-opacity="0.6" stroke="#5b90c5" stroke-width="0.95" stroke-linejoin="round"/>
<path d="M435.97,411.04 L437.82,407.71 L434.12,407.71 Z" fill="#b5d3ee" fill-opacity="0.6" stroke="#5b90c5" stroke-width="0.95" stroke-linejoin="round"/>
<path d="M452.17,434.18 L454.02,437.51 L450.32,437.51 Z" fill="#b5d3ee" fill-opacity="0.6" stroke="#5b90c5" stroke-width="0.95" stroke-linejoin="round"/>
<path d="M455.80,439.03 L457.65,435.70 L453.95,435.70 Z" fill="#b5d3ee" fill-opacity="0.6" stroke="#5b90c5" stroke-width="0.95" stroke-linejoin="round"/>
<path d="M438.16,417.30 L440.01,420.63 L436.31,420.63 Z" fill="#b5d3ee" fill-opacity="0.6" stroke="#5b90c5" stroke-width="0.95" stroke-linejoin="round"/>
<circle cx="482.01" cy="407.84" r="1.6" fill="#4f80b3"/>
<path d="M454.61,406.70 L456.46,403.37 L452.76,403.37 Z" fill="#b5d3ee" fill-opacity="0.6" stroke="#5b90c5" stroke-width="0.95" stroke-linejoin="round"/>
<path d="M466.81,435.41 L468.66,438.74 L464.96,438.74 Z" fill="#b5d3ee" fill-opacity="0.6" stroke="#5b90c5" stroke-width="0.95" stroke-linejoin="round"/>
<path d="M474.45,409.57 L476.30,406.24 L472.60,406.24 Z" fill="#b5d3ee" fill-opacity="0.6" stroke="#5b90c5" stroke-width="0.95" stroke-linejoin="round"/>
<circle cx="486.86" cy="425.46" r="1.6" fill="#4f80b3"/>
<path d="M446.76,412.84 L448.61,416.17 L444.91,416.17 Z" fill="#b5d3ee" fill-opacity="0.6" stroke="#5b90c5" stroke-width="0.95" stroke-linejoin="round"/>
<path d="M483.73,397.87 L485.58,394.54 L481.88,394.54 Z" fill="#b5d3ee" fill-opacity="0.6" stroke="#5b90c5" stroke-width="0.95" stroke-linejoin="round"/>
<circle cx="450.87" cy="418.56" r="1.5" fill="#fff" fill-opacity="0.5" stroke="#5b90c5" stroke-width="1.0"/>
<circle cx="453.73" cy="430.24" r="1.6" fill="#4f80b3"/>
<circle cx="476.74" cy="430.84" r="1.6" fill="#4f80b3"/>
<path d="M438.96,429.85 L440.81,426.52 L437.11,426.52 Z" fill="#b5d3ee" fill-opacity="0.6" stroke="#5b90c5" stroke-width="0.95" stroke-linejoin="round"/>
<path d="M458.53,427.63 L460.38,430.96 L456.68,430.96 Z" fill="#b5d3ee" fill-opacity="0.6" stroke="#5b90c5" stroke-width="0.95" stroke-linejoin="round"/>
<path d="M482.57,427.66 L484.42,424.33 L480.72,424.33 Z" fill="#b5d3ee" fill-opacity="0.6" stroke="#5b90c5" stroke-width="0.95" stroke-linejoin="round"/>
<path d="M453.33,416.47 L455.18,413.14 L451.48,413.14 Z" fill="#b5d3ee" fill-opacity="0.6" stroke="#5b90c5" stroke-width="0.95" stroke-linejoin="round"/>
<circle cx="478.67" cy="427.41" r="1.6" fill="#4f80b3"/>
<path d="M476.48,416.94 L478.33,420.27 L474.63,420.27 Z" fill="#b5d3ee" fill-opacity="0.6" stroke="#5b90c5" stroke-width="0.95" stroke-linejoin="round"/>
<circle cx="466.22" cy="422.31" r="1.6" fill="#4f80b3"/>
<circle cx="468.88" cy="388.03" r="1.6" fill="#4f80b3"/>
<circle cx="336.19" cy="366.70" r="1.6" fill="#4f80b3"/>
<path d="M348.46,375.51 L350.31,372.18 L346.61,372.18 Z" fill="#b5d3ee" fill-opacity="0.6" stroke="#5b90c5" stroke-width="0.95" stroke-linejoin="round"/>
<path d="M351.53,373.74 L353.38,377.07 L349.68,377.07 Z" fill="#b5d3ee" fill-opacity="0.6" stroke="#5b90c5" stroke-width="0.95" stroke-linejoin="round"/>
<circle cx="334.71" cy="380.28" r="1.6" fill="#4f80b3"/>
<path d="M334.36,368.81 L336.21,372.14 L332.51,372.14 Z" fill="#b5d3ee" fill-opacity="0.6" stroke="#5b90c5" stroke-width="0.95" stroke-linejoin="round"/>
<path d="M329.56,361.72 L331.41,365.05 L327.71,365.05 Z" fill="#b5d3ee" fill-opacity="0.6" stroke="#5b90c5" stroke-width="0.95" stroke-linejoin="round"/>
<circle cx="339.41" cy="374.28" r="1.6" fill="#4f80b3"/>
<path d="M354.01,371.95 L355.86,368.62 L352.16,368.62 Z" fill="#b5d3ee" fill-opacity="0.6" stroke="#5b90c5" stroke-width="0.95" stroke-linejoin="round"/>
<circle cx="339.10" cy="382.28" r="1.6" fill="#4f80b3"/>
<path d="M330.84,367.30 L332.69,370.63 L328.99,370.63 Z" fill="#b5d3ee" fill-opacity="0.6" stroke="#5b90c5" stroke-width="0.95" stroke-linejoin="round"/>
<path d="M329.07,374.73 L330.92,371.40 L327.22,371.40 Z" fill="#b5d3ee" fill-opacity="0.6" stroke="#5b90c5" stroke-width="0.95" stroke-linejoin="round"/>
<path d="M340.45,366.19 L342.30,369.52 L338.60,369.52 Z" fill="#b5d3ee" fill-opacity="0.6" stroke="#5b90c5" stroke-width="0.95" stroke-linejoin="round"/>
<circle cx="319.76" cy="388.79" r="1.6" fill="#4f80b3"/>
<path d="M345.39,383.85 L347.24,387.18 L343.54,387.18 Z" fill="#b5d3ee" fill-opacity="0.6" stroke="#5b90c5" stroke-width="0.95" stroke-linejoin="round"/>
<path d="M335.01,390.88 L336.86,394.21 L333.16,394.21 Z" fill="#b5d3ee" fill-opacity="0.6" stroke="#5b90c5" stroke-width="0.95" stroke-linejoin="round"/>
<circle cx="349.99" cy="381.14" r="1.5" fill="#fff" fill-opacity="0.5" stroke="#5b90c5" stroke-width="1.0"/>
<path d="M348.31,366.75 L350.16,370.08 L346.46,370.08 Z" fill="#b5d3ee" fill-opacity="0.6" stroke="#5b90c5" stroke-width="0.95" stroke-linejoin="round"/>
<path d="M352.54,389.42 L354.39,392.75 L350.69,392.75 Z" fill="#b5d3ee" fill-opacity="0.6" stroke="#5b90c5" stroke-width="0.95" stroke-linejoin="round"/>
<circle cx="356.25" cy="382.91" r="1.5" fill="#fff" fill-opacity="0.5" stroke="#5b90c5" stroke-width="1.0"/>
<path d="M349.44,386.84 L351.29,383.51 L347.59,383.51 Z" fill="#b5d3ee" fill-opacity="0.6" stroke="#5b90c5" stroke-width="0.95" stroke-linejoin="round"/>
<path d="M329.81,385.11 L331.66,388.44 L327.96,388.44 Z" fill="#b5d3ee" fill-opacity="0.6" stroke="#5b90c5" stroke-width="0.95" stroke-linejoin="round"/>
<path d="M357.62,385.24 L359.47,388.57 L355.77,388.57 Z" fill="#b5d3ee" fill-opacity="0.6" stroke="#5b90c5" stroke-width="0.95" stroke-linejoin="round"/>
<path d="M344.84,377.31 L346.69,373.98 L342.99,373.98 Z" fill="#b5d3ee" fill-opacity="0.6" stroke="#5b90c5" stroke-width="0.95" stroke-linejoin="round"/>
<path d="M353.62,382.44 L355.47,379.11 L351.77,379.11 Z" fill="#b5d3ee" fill-opacity="0.6" stroke="#5b90c5" stroke-width="0.95" stroke-linejoin="round"/>
<circle cx="344.12" cy="392.57" r="1.6" fill="#4f80b3"/>
<circle cx="330.76" cy="391.88" r="1.6" fill="#4f80b3"/>
<path d="M355.93,375.46 L357.78,378.79 L354.08,378.79 Z" fill="#b5d3ee" fill-opacity="0.6" stroke="#5b90c5" stroke-width="0.95" stroke-linejoin="round"/>
<path d="M343.01,382.01 L344.86,378.68 L341.16,378.68 Z" fill="#b5d3ee" fill-opacity="0.6" stroke="#5b90c5" stroke-width="0.95" stroke-linejoin="round"/>
<path d="M347.73,394.86 L349.58,391.53 L345.88,391.53 Z" fill="#b5d3ee" fill-opacity="0.6" stroke="#5b90c5" stroke-width="0.95" stroke-linejoin="round"/>
<circle cx="334.56" cy="384.77" r="1.6" fill="#4f80b3"/>
<circle cx="326.08" cy="383.86" r="1.6" fill="#4f80b3"/>
<circle cx="347.72" cy="388.36" r="1.5" fill="#fff" fill-opacity="0.5" stroke="#5b90c5" stroke-width="1.0"/>
<circle cx="316.00" cy="376.40" r="1.5" fill="#fff" fill-opacity="0.5" stroke="#5b90c5" stroke-width="1.0"/>
<circle cx="341.60" cy="371.46" r="1.5" fill="#fff" fill-opacity="0.5" stroke="#5b90c5" stroke-width="1.0"/>
<path d="M321.37,380.93 L323.22,384.26 L319.52,384.26 Z" fill="#b5d3ee" fill-opacity="0.6" stroke="#5b90c5" stroke-width="0.95" stroke-linejoin="round"/>
<circle cx="340.20" cy="393.19" r="1.6" fill="#4f80b3"/>
<circle cx="333.99" cy="363.05" r="1.6" fill="#4f80b3"/>
<path d="M337.39,361.53 L339.24,364.86 L335.54,364.86 Z" fill="#b5d3ee" fill-opacity="0.6" stroke="#5b90c5" stroke-width="0.95" stroke-linejoin="round"/>
<circle cx="344.73" cy="368.65" r="1.6" fill="#4f80b3"/>
<circle cx="318.60" cy="373.88" r="1.5" fill="#fff" fill-opacity="0.5" stroke="#5b90c5" stroke-width="1.0"/>
<path d="M340.76,362.50 L342.61,365.83 L338.91,365.83 Z" fill="#b5d3ee" fill-opacity="0.6" stroke="#5b90c5" stroke-width="0.95" stroke-linejoin="round"/>
<path d="M341.64,387.92 L343.49,384.59 L339.79,384.59 Z" fill="#b5d3ee" fill-opacity="0.6" stroke="#5b90c5" stroke-width="0.95" stroke-linejoin="round"/>
<circle cx="319.32" cy="378.11" r="1.6" fill="#4f80b3"/>
<path d="M316.24,381.02 L318.09,384.35 L314.39,384.35 Z" fill="#b5d3ee" fill-opacity="0.6" stroke="#5b90c5" stroke-width="0.95" stroke-linejoin="round"/>
<path d="M325.71,369.83 L327.56,366.50 L323.86,366.50 Z" fill="#b5d3ee" fill-opacity="0.6" stroke="#5b90c5" stroke-width="0.95" stroke-linejoin="round"/>
<path d="M359.79,384.65 L361.64,381.32 L357.94,381.32 Z" fill="#b5d3ee" fill-opacity="0.6" stroke="#5b90c5" stroke-width="0.95" stroke-linejoin="round"/>
<circle cx="321.72" cy="372.41" r="1.5" fill="#fff" fill-opacity="0.5" stroke="#5b90c5" stroke-width="1.0"/>
<path d="M352.28,386.03 L354.13,389.36 L350.43,389.36 Z" fill="#b5d3ee" fill-opacity="0.6" stroke="#5b90c5" stroke-width="0.95" stroke-linejoin="round"/>
<circle cx="329.62" cy="382.78" r="1.5" fill="#fff" fill-opacity="0.5" stroke="#5b90c5" stroke-width="1.0"/>
<circle cx="323.39" cy="375.26" r="1.6" fill="#4f80b3"/>
<path d="M337.46,391.20 L339.31,387.87 L335.61,387.87 Z" fill="#b5d3ee" fill-opacity="0.6" stroke="#5b90c5" stroke-width="0.95" stroke-linejoin="round"/>
<circle cx="345.37" cy="365.02" r="1.6" fill="#4f80b3"/>
<circle cx="323.67" cy="389.72" r="1.6" fill="#4f80b3"/>
<path d="M327.27,392.56 L329.12,389.23 L325.42,389.23 Z" fill="#b5d3ee" fill-opacity="0.6" stroke="#5b90c5" stroke-width="0.95" stroke-linejoin="round"/>
<circle cx="330.30" cy="378.23" r="1.6" fill="#4f80b3"/>
<circle cx="337.80" cy="378.85" r="1.5" fill="#fff" fill-opacity="0.5" stroke="#5b90c5" stroke-width="1.0"/>
<path d="M362.44,413.31 L364.29,409.98 L360.59,409.98 Z" fill="#b5d3ee" fill-opacity="0.6" stroke="#5b90c5" stroke-width="0.95" stroke-linejoin="round"/>
<path d="M360.21,405.99 L362.06,402.66 L358.36,402.66 Z" fill="#b5d3ee" fill-opacity="0.6" stroke="#5b90c5" stroke-width="0.95" stroke-linejoin="round"/>
<circle cx="357.99" cy="401.21" r="1.5" fill="#fff" fill-opacity="0.5" stroke="#5b90c5" stroke-width="1.0"/>
<path d="M361.34,398.04 L363.19,401.37 L359.49,401.37 Z" fill="#b5d3ee" fill-opacity="0.6" stroke="#5b90c5" stroke-width="0.95" stroke-linejoin="round"/>
<circle cx="356.92" cy="405.60" r="1.6" fill="#4f80b3"/>
<path d="M359.74,407.49 L361.59,410.82 L357.89,410.82 Z" fill="#b5d3ee" fill-opacity="0.6" stroke="#5b90c5" stroke-width="0.95" stroke-linejoin="round"/>
<path d="M377.79,415.99 L379.64,419.32 L375.94,419.32 Z" fill="#b5d3ee" fill-opacity="0.6" stroke="#5b90c5" stroke-width="0.95" stroke-linejoin="round"/>
<path d="M384.55,419.33 L386.40,422.66 L382.70,422.66 Z" fill="#b5d3ee" fill-opacity="0.6" stroke="#5b90c5" stroke-width="0.95" stroke-linejoin="round"/>
<circle cx="380.94" cy="433.67" r="1.5" fill="#fff" fill-opacity="0.5" stroke="#5b90c5" stroke-width="1.0"/>
<circle cx="369.20" cy="420.01" r="1.6" fill="#4f80b3"/>
<circle cx="382.32" cy="416.57" r="1.6" fill="#4f80b3"/>
<path d="M380.09,427.21 L381.94,423.88 L378.24,423.88 Z" fill="#b5d3ee" fill-opacity="0.6" stroke="#5b90c5" stroke-width="0.95" stroke-linejoin="round"/>
<path d="M377.43,432.72 L379.28,429.39 L375.58,429.39 Z" fill="#b5d3ee" fill-opacity="0.6" stroke="#5b90c5" stroke-width="0.95" stroke-linejoin="round"/>
<circle cx="388.67" cy="419.35" r="1.6" fill="#4f80b3"/>
<path d="M372.30,422.16 L374.15,425.49 L370.45,425.49 Z" fill="#b5d3ee" fill-opacity="0.6" stroke="#5b90c5" stroke-width="0.95" stroke-linejoin="round"/>
<path d="M376.18,429.45 L378.03,426.12 L374.33,426.12 Z" fill="#b5d3ee" fill-opacity="0.6" stroke="#5b90c5" stroke-width="0.95" stroke-linejoin="round"/>
<path d="M383.15,431.42 L385.00,428.09 L381.30,428.09 Z" fill="#b5d3ee" fill-opacity="0.6" stroke="#5b90c5" stroke-width="0.95" stroke-linejoin="round"/>
<path d="M375.12,418.30 L376.97,421.63 L373.27,421.63 Z" fill="#b5d3ee" fill-opacity="0.6" stroke="#5b90c5" stroke-width="0.95" stroke-linejoin="round"/>
<circle cx="387.35" cy="425.68" r="1.6" fill="#4f80b3"/>
<circle cx="374.04" cy="415.95" r="1.5" fill="#fff" fill-opacity="0.5" stroke="#5b90c5" stroke-width="1.0"/>
<path d="M376.34,422.21 L378.19,425.54 L374.49,425.54 Z" fill="#b5d3ee" fill-opacity="0.6" stroke="#5b90c5" stroke-width="0.95" stroke-linejoin="round"/>
<path d="M386.13,415.56 L387.98,412.23 L384.28,412.23 Z" fill="#b5d3ee" fill-opacity="0.6" stroke="#5b90c5" stroke-width="0.95" stroke-linejoin="round"/>
<circle cx="378.83" cy="413.44" r="1.6" fill="#4f80b3"/>
<circle cx="388.85" cy="415.95" r="1.6" fill="#4f80b3"/>
<path d="M378.74,419.88 L380.59,423.21 L376.89,423.21 Z" fill="#b5d3ee" fill-opacity="0.6" stroke="#5b90c5" stroke-width="0.95" stroke-linejoin="round"/>
<path d="M382.97,410.77 L384.82,414.10 L381.12,414.10 Z" fill="#b5d3ee" fill-opacity="0.6" stroke="#5b90c5" stroke-width="0.95" stroke-linejoin="round"/>
<path d="M383.74,423.50 L385.59,426.83 L381.89,426.83 Z" fill="#b5d3ee" fill-opacity="0.6" stroke="#5b90c5" stroke-width="0.95" stroke-linejoin="round"/>
<path d="M376.48,436.00 L378.33,432.67 L374.63,432.67 Z" fill="#b5d3ee" fill-opacity="0.6" stroke="#5b90c5" stroke-width="0.95" stroke-linejoin="round"/>
<circle cx="390.29" cy="422.81" r="1.5" fill="#fff" fill-opacity="0.5" stroke="#5b90c5" stroke-width="1.0"/>
<circle cx="370.55" cy="416.17" r="1.6" fill="#4f80b3"/>
<path d="M381.42,417.91 L383.27,421.24 L379.57,421.24 Z" fill="#b5d3ee" fill-opacity="0.6" stroke="#5b90c5" stroke-width="0.95" stroke-linejoin="round"/>
<circle cx="352.20" cy="344.60" r="1.6" fill="#6e0f1e"/>
<circle cx="355.80" cy="344.60" r="1.6" fill="#6e0f1e"/>
<path d="M359.40,336.25 L361.25,339.58 L357.55,339.58 Z" fill="#c2404f" fill-opacity="0.6" stroke="#8e1826" stroke-width="0.95" stroke-linejoin="round"/>
<path d="M362.30,341.35 L364.15,344.68 L360.45,344.68 Z" fill="#c2404f" fill-opacity="0.6" stroke="#8e1826" stroke-width="0.95" stroke-linejoin="round"/>
<path d="M365.20,343.95 L367.05,347.28 L363.35,347.28 Z" fill="#c2404f" fill-opacity="0.6" stroke="#8e1826" stroke-width="0.95" stroke-linejoin="round"/>
<path d="M367.40,336.25 L369.25,339.58 L365.55,339.58 Z" fill="#c2404f" fill-opacity="0.6" stroke="#8e1826" stroke-width="0.95" stroke-linejoin="round"/>
<circle cx="371.70" cy="333.00" r="1.6" fill="#6e0f1e"/>
<path d="M451.50,345.85 L453.35,349.18 L449.65,349.18 Z" fill="#c2404f" fill-opacity="0.6" stroke="#8e1826" stroke-width="0.95" stroke-linejoin="round"/>
<path d="M455.90,345.15 L457.75,348.48 L454.05,348.48 Z" fill="#c2404f" fill-opacity="0.6" stroke="#8e1826" stroke-width="0.95" stroke-linejoin="round"/>
<path d="M465.30,339.35 L467.15,342.68 L463.45,342.68 Z" fill="#c2404f" fill-opacity="0.6" stroke="#8e1826" stroke-width="0.95" stroke-linejoin="round"/>
<path d="M473.20,340.75 L475.05,344.08 L471.35,344.08 Z" fill="#c2404f" fill-opacity="0.6" stroke="#8e1826" stroke-width="0.95" stroke-linejoin="round"/>
<path d="M466.00,343.65 L467.85,346.98 L464.15,346.98 Z" fill="#c2404f" fill-opacity="0.6" stroke="#8e1826" stroke-width="0.95" stroke-linejoin="round"/>
<circle cx="481.10" cy="341.20" r="1.6" fill="#6e0f1e"/>
<circle cx="449.80" cy="372.30" r="1.6" fill="#6e0f1e"/>
<circle cx="454.20" cy="370.50" r="1.6" fill="#6e0f1e"/>
<circle cx="467.40" cy="377.50" r="1.6" fill="#6e0f1e"/>
<circle cx="471.80" cy="381.90" r="1.6" fill="#6e0f1e"/>
<circle cx="486.70" cy="382.80" r="1.6" fill="#6e0f1e"/>
<path d="M486.30,389.05 L488.15,385.72 L484.45,385.72 Z" fill="#c2404f" fill-opacity="0.6" stroke="#8e1826" stroke-width="0.95" stroke-linejoin="round"/>
<circle cx="432.30" cy="384.60" r="1.6" fill="#6e0f1e"/>
<circle cx="465.60" cy="397.70" r="1.6" fill="#6e0f1e"/>
<path d="M480.50,399.35 L482.35,402.68 L478.65,402.68 Z" fill="#c2404f" fill-opacity="0.6" stroke="#8e1826" stroke-width="0.95" stroke-linejoin="round"/>
<circle cx="470.90" cy="436.30" r="1.6" fill="#6e0f1e"/>
<circle cx="476.10" cy="440.70" r="1.5" fill="#fff" fill-opacity="0.5" stroke="#8e1826" stroke-width="1.0"/>
<path d="M434.00,367.15 L435.85,363.82 L432.15,363.82 Z" fill="#c2404f" fill-opacity="0.6" stroke="#8e1826" stroke-width="0.95" stroke-linejoin="round"/>
<path d="M434.00,370.45 L435.85,373.78 L432.15,373.78 Z" fill="#c2404f" fill-opacity="0.6" stroke="#8e1826" stroke-width="0.95" stroke-linejoin="round"/>
<path d="M437.00,371.35 L438.85,374.68 L435.15,374.68 Z" fill="#c2404f" fill-opacity="0.6" stroke="#8e1826" stroke-width="0.95" stroke-linejoin="round"/>
<circle cx="432.70" cy="384.10" r="1.6" fill="#6e0f1e"/>
<path d="M384.30,418.35 L386.15,421.68 L382.45,421.68 Z" fill="#c2404f" fill-opacity="0.6" stroke="#8e1826" stroke-width="0.95" stroke-linejoin="round"/>
<path d="M388.20,426.05 L390.05,429.38 L386.35,429.38 Z" fill="#c2404f" fill-opacity="0.6" stroke="#8e1826" stroke-width="0.95" stroke-linejoin="round"/>
<path d="M393.30,422.65 L395.15,425.98 L391.45,425.98 Z" fill="#c2404f" fill-opacity="0.6" stroke="#8e1826" stroke-width="0.95" stroke-linejoin="round"/>
<path d="M353.00,398.15 L354.85,401.48 L351.15,401.48 Z" fill="#c2404f" fill-opacity="0.6" stroke="#8e1826" stroke-width="0.95" stroke-linejoin="round"/>
<path d="M334.20,397.65 L336.05,400.98 L332.35,400.98 Z" fill="#c2404f" fill-opacity="0.6" stroke="#8e1826" stroke-width="0.95" stroke-linejoin="round"/>
<circle cx="370.00" cy="382.30" r="1.5" fill="#fff" fill-opacity="0.5" stroke="#8e1826" stroke-width="1.0"/>
<circle cx="371.00" cy="386.00" r="1.5" fill="#fff" fill-opacity="0.5" stroke="#8e1826" stroke-width="1.0"/>
<circle cx="386.10" cy="353.00" r="1.6" fill="#4f80b3"/>
<circle cx="383.20" cy="358.80" r="1.5" fill="#fff" fill-opacity="0.5" stroke="#5b90c5" stroke-width="1.0"/>
<path d="M431.10,351.15 L432.95,354.48 L429.25,354.48 Z" fill="#b5d3ee" fill-opacity="0.6" stroke="#5b90c5" stroke-width="0.95" stroke-linejoin="round"/>
<path d="M426.20,365.75 L428.05,369.08 L424.35,369.08 Z" fill="#b5d3ee" fill-opacity="0.6" stroke="#5b90c5" stroke-width="0.95" stroke-linejoin="round"/>
<path d="M421.80,401.35 L423.65,398.02 L419.95,398.02 Z" fill="#b5d3ee" fill-opacity="0.6" stroke="#5b90c5" stroke-width="0.95" stroke-linejoin="round"/>
<path d="M423.50,403.95 L425.35,400.62 L421.65,400.62 Z" fill="#b5d3ee" fill-opacity="0.6" stroke="#5b90c5" stroke-width="0.95" stroke-linejoin="round"/>
<circle cx="481.60" cy="369.00" r="1.5" fill="#fff" fill-opacity="0.5" stroke="#5b90c5" stroke-width="1.0"/>
<circle cx="486.70" cy="362.60" r="1.5" fill="#fff" fill-opacity="0.5" stroke="#5b90c5" stroke-width="1.0"/>
<path d="M372.30,387.25 L374.15,383.92 L370.45,383.92 Z" fill="#b5d3ee" fill-opacity="0.6" stroke="#5b90c5" stroke-width="0.95" stroke-linejoin="round"/>
<circle cx="367.70" cy="390.80" r="1.6" fill="#4f80b3"/>
<circle cx="340.00" cy="400.00" r="1.5" fill="#fff" fill-opacity="0.5" stroke="#5b90c5" stroke-width="1.0"/>
<circle cx="360.80" cy="401.50" r="1.5" fill="#fff" fill-opacity="0.5" stroke="#5b90c5" stroke-width="1.0"/>
<circle cx="356.20" cy="408.50" r="1.5" fill="#fff" fill-opacity="0.5" stroke="#5b90c5" stroke-width="1.0"/>
<circle cx="362.30" cy="410.80" r="1.6" fill="#4f80b3"/>
<circle cx="363.20" cy="411.00" r="1.6" fill="#4f80b3"/>
<path d="M300.6,282 L300.6,448.2 L511,448.2" fill="none" stroke="#000" stroke-width="1.5"/>
<line x1="297.6" x2="300.6" y1="447.54" y2="447.54" stroke="#000" stroke-width="1.1"/>
<text x="294.30" y="450.54" font-size="8.2" fill="#1a1a1a" text-anchor="end" font-weight="normal" >-80</text>
<line x1="297.6" x2="300.6" y1="429.48" y2="429.48" stroke="#000" stroke-width="1.1"/>
<text x="294.30" y="432.48" font-size="8.2" fill="#1a1a1a" text-anchor="end" font-weight="normal" >-60</text>
<line x1="297.6" x2="300.6" y1="411.42" y2="411.42" stroke="#000" stroke-width="1.1"/>
<text x="294.30" y="414.42" font-size="8.2" fill="#1a1a1a" text-anchor="end" font-weight="normal" >-40</text>
<line x1="297.6" x2="300.6" y1="393.36" y2="393.36" stroke="#000" stroke-width="1.1"/>
<text x="294.30" y="396.36" font-size="8.2" fill="#1a1a1a" text-anchor="end" font-weight="normal" >-20</text>
<line x1="297.6" x2="300.6" y1="375.30" y2="375.30" stroke="#000" stroke-width="1.1"/>
<text x="294.30" y="378.30" font-size="8.2" fill="#1a1a1a" text-anchor="end" font-weight="normal" >0</text>
<line x1="297.6" x2="300.6" y1="357.24" y2="357.24" stroke="#000" stroke-width="1.1"/>
<text x="294.30" y="360.24" font-size="8.2" fill="#1a1a1a" text-anchor="end" font-weight="normal" >20</text>
<line x1="297.6" x2="300.6" y1="339.18" y2="339.18" stroke="#000" stroke-width="1.1"/>
<text x="294.30" y="342.18" font-size="8.2" fill="#1a1a1a" text-anchor="end" font-weight="normal" >40</text>
<line x1="297.6" x2="300.6" y1="321.12" y2="321.12" stroke="#000" stroke-width="1.1"/>
<text x="294.30" y="324.12" font-size="8.2" fill="#1a1a1a" text-anchor="end" font-weight="normal" >60</text>
<line x1="297.6" x2="300.6" y1="303.06" y2="303.06" stroke="#000" stroke-width="1.1"/>
<text x="294.30" y="306.06" font-size="8.2" fill="#1a1a1a" text-anchor="end" font-weight="normal" >80</text>
<line x1="297.6" x2="300.6" y1="285.00" y2="285.00" stroke="#000" stroke-width="1.1"/>
<text x="294.30" y="288.00" font-size="8.2" fill="#1a1a1a" text-anchor="end" font-weight="normal" >100</text>
<line x1="301.00" x2="301.00" y1="448.3" y2="451.2" stroke="#000" stroke-width="1.1"/>
<text x="300.90" y="461.70" font-size="8.2" fill="#1a1a1a" text-anchor="middle" font-weight="normal" >-100</text>
<line x1="323.90" x2="323.90" y1="448.3" y2="451.2" stroke="#000" stroke-width="1.1"/>
<text x="323.80" y="461.70" font-size="8.2" fill="#1a1a1a" text-anchor="middle" font-weight="normal" >-80</text>
<line x1="346.80" x2="346.80" y1="448.3" y2="451.2" stroke="#000" stroke-width="1.1"/>
<text x="346.70" y="461.70" font-size="8.2" fill="#1a1a1a" text-anchor="middle" font-weight="normal" >-60</text>
<line x1="369.70" x2="369.70" y1="448.3" y2="451.2" stroke="#000" stroke-width="1.1"/>
<text x="369.60" y="461.70" font-size="8.2" fill="#1a1a1a" text-anchor="middle" font-weight="normal" >-40</text>
<line x1="392.60" x2="392.60" y1="448.3" y2="451.2" stroke="#000" stroke-width="1.1"/>
<text x="392.50" y="461.70" font-size="8.2" fill="#1a1a1a" text-anchor="middle" font-weight="normal" >-20</text>
<line x1="415.50" x2="415.50" y1="448.3" y2="451.2" stroke="#000" stroke-width="1.1"/>
<text x="415.50" y="461.70" font-size="8.2" fill="#1a1a1a" text-anchor="middle" font-weight="normal" >0</text>
<line x1="438.40" x2="438.40" y1="448.3" y2="451.2" stroke="#000" stroke-width="1.1"/>
<text x="438.40" y="461.70" font-size="8.2" fill="#1a1a1a" text-anchor="middle" font-weight="normal" >20</text>
<line x1="461.30" x2="461.30" y1="448.3" y2="451.2" stroke="#000" stroke-width="1.1"/>
<text x="461.30" y="461.70" font-size="8.2" fill="#1a1a1a" text-anchor="middle" font-weight="normal" >40</text>
<line x1="484.20" x2="484.20" y1="448.3" y2="451.2" stroke="#000" stroke-width="1.1"/>
<text x="484.20" y="461.70" font-size="8.2" fill="#1a1a1a" text-anchor="middle" font-weight="normal" >60</text>
<line x1="507.10" x2="507.10" y1="448.3" y2="451.2" stroke="#000" stroke-width="1.1"/>
<text x="507.10" y="461.70" font-size="8.2" fill="#1a1a1a" text-anchor="middle" font-weight="normal" >80</text>
<text transform="translate(276.3,364.6) rotate(-90)" font-size="8.6" fill="#1a1a1a" text-anchor="middle">tSNE2</text>
<text x="405.80" y="474.80" font-size="8.6" fill="#1a1a1a" text-anchor="middle" font-weight="normal" >tSNE1</text>
<text x="391.30" y="315.00" font-size="7.6" fill="#111" text-anchor="start" font-weight="bold" >HSC/MLP</text>
<text x="472.60" y="306.20" font-size="7.6" fill="#111" text-anchor="start" font-weight="bold" >ETP</text>
<text x="487.40" y="339.80" font-size="7.6" fill="#111" text-anchor="start" font-weight="bold" >GMP</text>
<text x="491.10" y="414.80" font-size="7.6" fill="#111" text-anchor="start" font-weight="bold" >MEP</text>
<text x="316.30" y="402.10" font-size="7.6" fill="#111" text-anchor="start" font-weight="bold" >ETP</text>
<text x="353.50" y="429.80" font-size="7.6" fill="#111" text-anchor="start" font-weight="bold" >ProB</text>
<rect x="311.50" y="274.20" width="4.90" height="4.60" fill="#a51f2a"/>
<rect x="311.50" y="285.20" width="4.90" height="4.60" fill="#6a9fd0"/>
<text x="319.40" y="279.80" font-size="7.7" fill="#1a1a1a" text-anchor="start" font-weight="normal" >CD34<tspan dy="-2.8" font-size="5.2">+</tspan><tspan dy="2.8">CD38</tspan><tspan dy="-2.8" font-size="5.2">-</tspan></text>
<text x="319.40" y="290.30" font-size="7.7" fill="#1a1a1a" text-anchor="start" font-weight="normal" >CD34<tspan dy="-2.8" font-size="5.2">+</tspan><tspan dy="2.8">CD38</tspan><tspan dy="-2.8" font-size="5.2">+</tspan></text>
<path d="M314,296.3 L316.5,300.5 L311.5,300.5 Z" fill="none" stroke="#000" stroke-width="1.1"/>
<path d="M314,311.2 L316.5,307 L311.5,307 Z" fill="none" stroke="#000" stroke-width="1.1"/>
<circle cx="314" cy="319.8" r="2.1" fill="none" stroke="#000" stroke-width="1.3"/>
<circle cx="314" cy="330.7" r="2.9" fill="#000"/>
<text x="319.80" y="300.70" font-size="7.6" fill="#1a1a1a" text-anchor="start" font-weight="normal" >Healthy 1</text>
<text x="319.80" y="311.40" font-size="7.6" fill="#1a1a1a" text-anchor="start" font-weight="normal" >Healthy 2</text>
<text x="319.80" y="322.20" font-size="7.6" fill="#1a1a1a" text-anchor="start" font-weight="normal" >Healthy 3</text>
<text x="319.80" y="333.00" font-size="7.6" fill="#1a1a1a" text-anchor="start" font-weight="normal" >Healthy 4</text>
<rect x="0.6" y="0.6" width="518.8" height="483" fill="none" stroke="#000" stroke-width="1.5"/>
<rect x="0" y="483" width="520" height="1" fill="#555"/>
<rect x="0" y="484" width="520" height="1" fill="#000"/>
</svg>
</body></html>
